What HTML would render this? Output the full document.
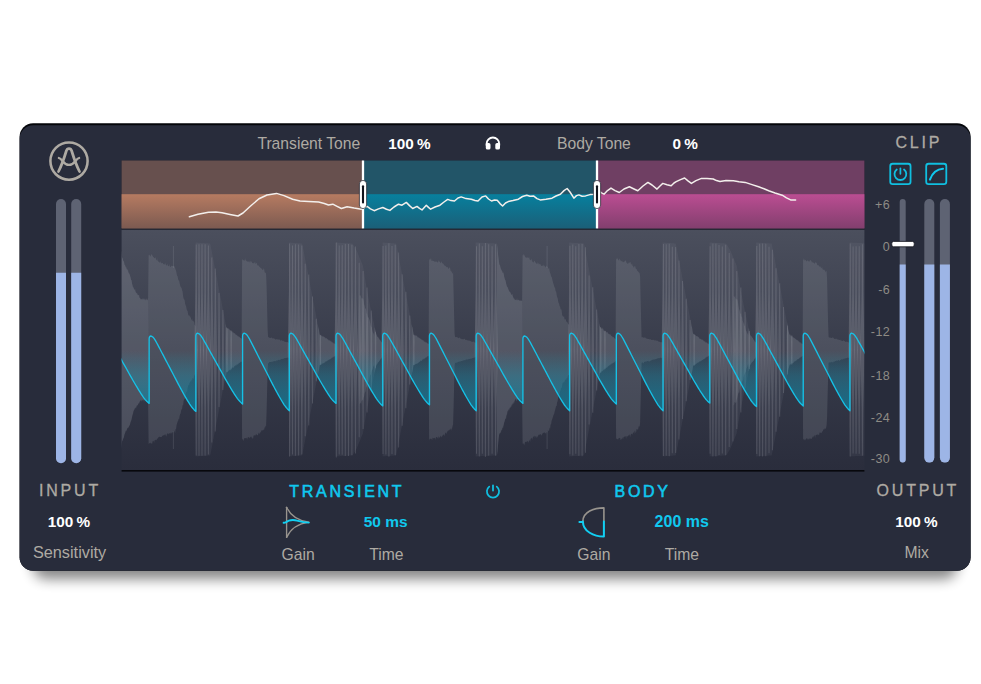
<!DOCTYPE html>
<html lang="en"><head><meta charset="utf-8"><title>Transient Shaper</title>
<style>
html,body{margin:0;padding:0;background:#fff;}
body{width:981px;height:684px;overflow:hidden;position:relative;}
svg{position:absolute;left:0;top:0;display:block;}
text{font-family:"Liberation Sans",sans-serif;}
.lbl{font-size:15.7px;fill:#aeaaa3;}
.val{font-size:15.3px;font-weight:bold;fill:#fff;word-spacing:-1px;}
.cval{font-size:15.5px;font-weight:bold;fill:#10c8ee;}
.hd{font-size:16px;fill:#aeaaa3;letter-spacing:2.8px;stroke:#aeaaa3;stroke-width:0.3px;}
.chd{font-size:16px;fill:#10c8ee;letter-spacing:2.7px;stroke:#10c8ee;stroke-width:0.55px;}
.sc{font-size:12.5px;fill:#8e8b85;letter-spacing:0.4px;}
</style></head><body>
<svg width="981" height="684" viewBox="0 0 981 684">
<defs>
<filter id="sh" x="-10%" y="-10%" width="120%" height="140%"><feGaussianBlur stdDeviation="6.5"/></filter>
<linearGradient id="gw" x1="0" y1="0" x2="0" y2="1"><stop offset="0" stop-color="#4b4f5d"/><stop offset="0.55" stop-color="#363a49"/><stop offset="1" stop-color="#2a2d3c"/></linearGradient>
<linearGradient id="go" x1="0" y1="0" x2="0" y2="1"><stop offset="0" stop-color="#b67b61"/><stop offset="1" stop-color="#7c5a51"/></linearGradient>
<linearGradient id="gt" x1="0" y1="0" x2="0" y2="1"><stop offset="0" stop-color="#07809e"/><stop offset="1" stop-color="#1b5f78"/></linearGradient>
<linearGradient id="gm" x1="0" y1="0" x2="0" y2="1"><stop offset="0" stop-color="#bb4d92"/><stop offset="1" stop-color="#823f6e"/></linearGradient>
<linearGradient id="gc" gradientUnits="userSpaceOnUse" x1="0" y1="351" x2="0" y2="412"><stop offset="0" stop-color="#1aa3c4" stop-opacity="0"/><stop offset="0.4" stop-color="#1a97b6" stop-opacity="0.36"/><stop offset="1" stop-color="#0e7b98" stop-opacity="0.78"/></linearGradient>
<clipPath id="cw"><rect x="121.6" y="229.8" width="742.8" height="240.2"/></clipPath>
</defs>

<rect x="32.6" y="153.2" width="925.0" height="425.8" rx="14" fill="#000" opacity="0.48" filter="url(#sh)"/>
<rect x="19.6" y="123.2" width="951.0" height="447.6" rx="13.5" fill="#05060a"/>
<rect x="19.6" y="125.2" width="951.0" height="445.6" rx="13.5" fill="#282c3b"/>
<g fill="none" stroke="#aeaaa3" stroke-linecap="round"><circle cx="69" cy="161.1" r="18.6" stroke-width="2.55"/><path d="M58.5 171.5 C61.8 165 64.6 156.6 66.3 151 C67.2 147.7 70.8 147.7 71.7 151 C73.4 156.6 76.2 165 79.5 171.5" stroke-width="2.75"/><path d="M58.9 158 C62.6 158.8 63 164.9 69 164.9 C75 164.9 75.4 158.8 79.1 158" stroke-width="2.3"/></g>
<text class="lbl" x="257.4" y="148.9">Transient Tone</text>
<text class="val" x="388.3" y="148.9">100 %</text>
<text class="lbl" x="557" y="148.9">Body Tone</text>
<text class="val" x="672.4" y="148.9">0 %</text>
<path d="M486.6 145.4 V143.8 A6.3 6.3 0 0 1 499.2 143.8 V145.4" fill="none" stroke="#fff" stroke-width="1.9"/><rect x="485.8" y="143.1" width="4.7" height="6.5" rx="1.7" fill="#fff"/><rect x="495.3" y="143.1" width="4.7" height="6.5" rx="1.7" fill="#fff"/>
<rect x="121.6" y="160.5" width="742.8" height="69.4" fill="#1c1f2b"/>
<rect x="121.6" y="160.5" width="241.4" height="67.9" fill="#67504e"/>
<rect x="121.6" y="194.2" width="241.4" height="34.20000000000002" fill="url(#go)"/>
<rect x="363.0" y="160.5" width="234.0" height="67.9" fill="#225568"/>
<rect x="363.0" y="194.2" width="234.0" height="34.20000000000002" fill="url(#gt)"/>
<rect x="597.0" y="160.5" width="267.4" height="67.9" fill="#6f3f63"/>
<rect x="597.0" y="194.2" width="267.4" height="34.20000000000002" fill="url(#gm)"/>
<polyline fill="none" stroke="#f3efec" stroke-width="1.5" stroke-linejoin="round" stroke-linecap="round" points="189.4,216.7 198.0,214.3 208.5,212.3 216.0,212.1 222.0,212.7 230.0,214.4 238.0,216.0 243.0,213.0 250.0,206.5 259.0,198.8 267.0,195.0 276.5,193.4 284.0,195.6 292.6,199.2 300.0,200.9 308.6,201.4 318.6,202.1 324.3,203.5 328.5,205.0 332.8,204.2 337.1,206.4 341.4,208.5 347.1,206.7 354.2,208.1 361.4,209.2 367.1,206.4 370.5,208.8 374.2,210.7 378.5,208.9 382.8,207.5 386.5,209.2 389.9,210.4 394.0,207.0 398.5,204.2 402.0,205.2 406.3,202.4 409.5,205.6 412.7,208.5 417.0,206.4 419.5,208.4 422.0,209.9 426.3,205.2 428.5,207.4 430.6,209.2 435.0,207.0 440.0,205.2 444.0,202.0 447.7,199.4 451.0,200.6 454.5,201.0 458.0,198.0 461.2,196.9 466.0,198.6 471.3,199.2 475.0,200.5 478.0,201.0 482.0,197.0 485.7,195.9 488.5,199.0 491.5,201.0 494.5,200.0 497.2,200.2 500.0,203.6 502.6,206.0 505.5,203.0 508.3,201.6 513.0,200.6 518.4,199.2 522.5,196.5 526.8,195.2 530.0,196.2 533.5,195.9 537.0,198.6 540.2,199.9 546.0,199.2 552.0,198.2 556.0,196.0 560.4,194.2 564.0,190.6 567.1,188.5 570.0,192.0 573.9,198.2 576.5,195.6 578.9,194.9 582.0,196.2 585.6,195.9 590.0,194.6 595.7,194.2 599.0,190.8 601.5,192.8 604.0,194.2 607.5,190.6 611.0,188.1 615.0,190.6 619.3,192.5 624.0,189.0 629.4,186.8 634.0,189.0 637.8,190.8 643.0,186.0 647.9,182.4 652.0,185.0 657.0,189.1 660.0,186.0 662.8,183.4 667.0,184.8 671.2,185.8 674.0,183.0 676.2,181.7 680.5,179.6 684.6,178.0 688.0,180.8 691.4,183.4 696.0,180.6 701.5,178.4 707.0,178.4 713.2,179.0 716.5,180.6 720.0,181.4 726.0,180.4 733.4,180.7 739.0,181.7 745.2,182.4 752.0,184.6 758.6,186.8 764.0,188.8 768.7,190.8 775.0,193.0 782.2,195.2 786.5,197.8 790.6,199.9 795.6,199.9"/>
<rect x="361.85" y="160.5" width="2.3" height="67.9" fill="#fff"/>
<rect x="359.4" y="180.4" width="7.2" height="28.2" rx="3.6" fill="#fff" stroke="#1b1d28" stroke-width="0.7"/>
<rect x="361.95" y="185.2" width="2.1" height="18.4" rx="1" fill="#11131c"/>
<rect x="595.85" y="160.5" width="2.3" height="67.9" fill="#fff"/>
<rect x="593.4" y="180.4" width="7.2" height="28.2" rx="3.6" fill="#fff" stroke="#1b1d28" stroke-width="0.7"/>
<rect x="595.95" y="185.2" width="2.1" height="18.4" rx="1" fill="#11131c"/>
<rect x="121.6" y="229.8" width="742.8" height="240.2" fill="url(#gw)"/>
<g clip-path="url(#cw)">
<polygon fill="#b4b5c0" fill-opacity="0.07" points="120.6,245.7 121.1,249.9 121.6,254.1 122.1,256.8 122.6,258.3 123.1,259.8 123.6,261.3 124.1,262.8 124.6,264.3 125.1,265.8 125.6,267.3 126.1,268.4 126.6,269.2 127.1,269.9 127.6,270.7 128.1,271.4 128.6,272.2 129.1,272.9 129.6,273.7 130.1,275.1 130.6,277.1 131.1,279.1 131.6,281.1 132.1,283.1 132.6,285.1 133.1,287.1 133.6,288.4 134.1,289.1 134.6,289.8 135.1,290.5 135.6,291.2 136.1,292.0 136.6,292.7 137.1,293.4 137.6,294.2 138.1,294.9 138.6,295.7 139.1,296.4 139.6,297.2 140.1,297.9 140.6,298.7 141.1,299.0 141.6,299.1 142.1,299.2 142.6,299.2 143.1,299.3 143.6,299.4 144.1,299.4 144.6,299.5 145.1,299.6 145.6,299.6 146.1,299.7 146.6,299.7 147.1,299.8 147.6,299.9 148.1,299.9 148.6,335.0 149.1,350.0 149.6,350.0 150.1,350.0 150.6,350.0 151.1,350.0 151.6,350.0 152.1,350.0 152.6,350.0 153.1,350.0 153.6,350.0 154.1,350.0 154.6,350.0 155.1,350.0 155.6,350.0 156.1,350.0 156.6,350.0 157.1,350.0 157.6,350.0 158.1,350.0 158.6,350.0 159.1,350.0 159.6,350.0 160.1,350.0 160.6,350.0 161.1,350.0 161.6,350.0 162.1,350.0 162.6,350.0 163.1,350.0 163.6,350.0 164.1,350.0 164.6,350.0 165.1,350.0 165.6,350.0 166.1,350.0 166.6,350.0 167.1,350.0 167.6,350.0 168.1,350.0 168.6,350.0 169.1,350.0 169.6,350.0 170.1,350.0 170.6,350.0 171.1,350.0 171.6,350.0 172.1,350.0 172.6,350.0 173.1,350.0 173.6,350.0 174.1,350.0 174.6,350.0 175.1,350.0 175.6,350.0 176.1,350.0 176.6,350.0 177.1,350.0 177.6,350.0 178.1,350.0 178.6,350.0 179.1,350.0 179.6,350.0 180.1,350.0 180.6,350.0 181.1,350.0 181.6,350.0 182.1,350.0 182.6,350.0 183.1,350.0 183.6,350.0 184.1,350.0 184.6,350.0 185.1,350.0 185.6,350.0 186.1,350.0 186.6,350.0 187.1,350.0 187.6,350.0 188.1,350.0 188.6,350.0 189.1,350.0 189.6,350.0 190.1,350.0 190.6,350.0 191.1,350.0 191.6,350.0 192.1,350.0 192.6,350.0 193.1,350.0 193.6,350.0 194.1,350.0 194.6,350.0 195.1,350.0 195.6,242.5 196.1,242.6 196.6,242.6 197.1,242.6 197.6,242.7 198.1,242.7 198.6,242.7 199.1,242.8 199.6,242.8 200.1,242.8 200.6,242.9 201.1,242.9 201.6,242.9 202.1,243.0 202.6,243.0 203.1,243.0 203.6,243.1 204.1,243.1 204.6,243.1 205.1,243.2 205.6,243.2 206.1,243.2 206.6,243.3 207.1,243.3 207.6,243.3 208.1,243.4 208.6,243.4 209.1,243.4 209.6,243.5 210.1,243.5 210.6,245.2 211.1,247.8 211.6,250.4 212.1,253.1 212.6,255.7 213.1,258.3 213.6,260.9 214.1,263.5 214.6,266.1 215.1,268.7 215.6,271.3 216.1,273.9 216.6,276.5 217.1,279.1 217.6,281.8 218.1,284.4 218.6,287.0 219.1,289.6 219.6,292.2 220.1,294.8 220.6,297.4 221.1,300.0 221.6,302.6 222.1,305.2 222.6,307.8 223.1,310.5 223.6,313.1 224.1,315.7 224.6,318.3 225.1,320.9 225.6,323.5 226.1,326.1 226.6,327.2 227.1,327.6 227.6,328.0 228.1,328.4 228.6,328.7 229.1,329.1 229.6,329.5 230.1,329.8 230.6,330.2 231.1,330.6 231.6,330.9 232.1,331.3 232.6,331.7 233.1,332.1 233.6,332.4 234.1,332.8 234.6,333.2 235.1,333.5 235.6,333.9 236.1,334.3 236.6,334.6 237.1,335.0 237.6,335.4 238.1,335.8 238.6,336.1 239.1,336.5 239.6,336.9 240.1,337.2 240.6,337.6 241.1,338.0 241.6,338.3 242.1,338.7 242.6,350.0 243.1,350.0 243.6,350.0 244.1,350.0 244.6,350.0 245.1,350.0 245.6,350.0 246.1,350.0 246.6,350.0 247.1,350.0 247.6,350.0 248.1,350.0 248.6,350.0 249.1,350.0 249.6,350.0 250.1,350.0 250.6,350.0 251.1,350.0 251.6,350.0 252.1,350.0 252.6,350.0 253.1,350.0 253.6,350.0 254.1,350.0 254.6,350.0 255.1,350.0 255.6,350.0 256.1,350.0 256.6,350.0 257.1,350.0 257.6,350.0 258.1,350.0 258.6,350.0 259.1,350.0 259.6,350.0 260.1,350.0 260.6,350.0 261.1,350.0 261.6,350.0 262.1,350.0 262.6,350.0 263.1,350.0 263.6,350.0 264.1,350.0 264.6,350.0 265.1,350.0 265.6,350.0 266.1,350.0 266.6,350.0 267.1,350.0 267.6,350.0 268.1,350.0 268.6,350.0 269.1,350.0 269.6,350.0 270.1,350.0 270.6,350.0 271.1,350.0 271.6,350.0 272.1,350.0 272.6,350.0 273.1,350.0 273.6,350.0 274.1,350.0 274.6,350.0 275.1,350.0 275.6,350.0 276.1,350.0 276.6,350.0 277.1,350.0 277.6,350.0 278.1,350.0 278.6,350.0 279.1,350.0 279.6,350.0 280.1,350.0 280.6,350.0 281.1,350.0 281.6,350.0 282.1,350.0 282.6,350.0 283.1,350.0 283.6,350.0 284.1,350.0 284.6,350.0 285.1,350.0 285.6,350.0 286.1,350.0 286.6,350.0 287.1,350.0 287.6,350.0 288.1,350.0 288.6,350.0 289.1,242.5 289.6,242.6 290.1,242.6 290.6,242.6 291.1,242.7 291.6,242.7 292.1,242.8 292.6,242.8 293.1,242.8 293.6,242.9 294.1,242.9 294.6,242.9 295.1,243.0 295.6,243.0 296.1,243.0 296.6,243.1 297.1,243.1 297.6,243.2 298.1,243.2 298.6,243.2 299.1,243.3 299.6,243.3 300.1,243.3 300.6,243.4 301.1,243.4 301.6,243.5 302.1,243.5 302.6,245.5 303.1,248.1 303.6,250.7 304.1,253.3 304.6,255.9 305.1,258.4 305.6,261.0 306.1,263.6 306.6,266.2 307.1,268.8 307.6,271.4 308.1,274.0 308.6,276.5 309.1,279.1 309.6,281.7 310.1,284.3 310.6,286.9 311.1,289.5 311.6,292.1 312.1,294.6 312.6,297.2 313.1,299.8 313.6,302.4 314.1,305.0 314.6,307.6 315.1,310.2 315.6,312.7 316.1,315.3 316.6,317.9 317.1,320.5 317.6,323.1 318.1,325.7 318.6,328.3 319.1,330.8 319.6,333.4 320.1,334.2 320.6,334.5 321.1,334.9 321.6,335.2 322.1,335.5 322.6,335.8 323.1,336.1 323.6,336.4 324.1,336.7 324.6,337.0 325.1,337.3 325.6,337.6 326.1,337.9 326.6,338.2 327.1,338.6 327.6,338.9 328.1,339.2 328.6,339.5 329.1,339.8 329.6,340.1 330.1,340.4 330.6,340.7 331.1,341.0 331.6,341.3 332.1,341.6 332.6,341.9 333.1,342.3 333.6,342.6 334.1,342.9 334.6,343.2 335.1,343.5 335.6,242.5 336.1,242.5 336.6,242.6 337.1,242.6 337.6,242.6 338.1,242.7 338.6,242.7 339.1,242.7 339.6,242.7 340.1,242.8 340.6,242.8 341.1,242.8 341.6,242.9 342.1,242.9 342.6,242.9 343.1,243.0 343.6,243.0 344.1,243.0 344.6,243.0 345.1,243.1 345.6,243.1 346.1,243.1 346.6,243.2 347.1,243.2 347.6,243.2 348.1,243.2 348.6,243.3 349.1,243.3 349.6,243.3 350.1,243.4 350.6,243.4 351.1,243.4 351.6,243.5 352.1,243.5 352.6,243.8 353.1,244.6 353.6,245.4 354.1,246.2 354.6,247.0 355.1,247.8 355.6,248.7 356.1,249.5 356.6,250.4 357.1,251.6 357.6,252.8 358.1,254.0 358.6,255.3 359.1,256.5 359.6,257.7 360.1,258.9 360.6,260.1 361.1,261.3 361.6,262.5 362.1,263.7 362.6,265.0 363.1,266.4 363.6,269.5 364.1,272.6 364.6,275.7 365.1,278.8 365.6,282.0 366.1,284.9 366.6,287.5 367.1,290.2 367.6,292.8 368.1,295.4 368.6,298.1 369.1,300.7 369.6,303.3 370.1,305.8 370.6,308.2 371.1,310.6 371.6,313.0 372.1,315.4 372.6,317.7 373.1,319.9 373.6,322.1 374.1,324.3 374.6,326.5 375.1,328.7 375.6,330.9 376.1,333.1 376.6,334.7 377.1,335.4 377.6,336.1 378.1,336.8 378.6,337.5 379.1,338.1 379.6,338.8 380.1,339.5 380.6,340.2 381.1,340.9 381.6,341.6 382.1,342.2 382.6,242.5 383.1,242.6 383.6,242.6 384.1,242.6 384.6,242.7 385.1,242.7 385.6,242.7 386.1,242.8 386.6,242.8 387.1,242.9 387.6,242.9 388.1,242.9 388.6,243.0 389.1,243.0 389.6,243.0 390.1,243.1 390.6,243.1 391.1,243.1 391.6,243.2 392.1,243.2 392.6,243.2 393.1,243.3 393.6,243.3 394.1,243.4 394.6,243.4 395.1,243.4 395.6,243.5 396.1,243.5 396.6,245.8 397.1,248.4 397.6,251.0 398.1,253.6 398.6,256.2 399.1,258.8 399.6,261.3 400.1,263.9 400.6,266.5 401.1,269.1 401.6,271.7 402.1,274.3 402.6,276.9 403.1,279.4 403.6,282.0 404.1,284.6 404.6,287.2 405.1,289.8 405.6,292.4 406.1,295.0 406.6,297.5 407.1,300.1 407.6,302.7 408.1,305.3 408.6,307.9 409.1,310.5 409.6,313.1 410.1,315.6 410.6,318.2 411.1,320.8 411.6,323.4 412.1,326.0 412.6,328.6 413.1,331.2 413.6,333.7 414.1,334.3 414.6,334.6 415.1,334.9 415.6,335.2 416.1,335.6 416.6,335.9 417.1,336.2 417.6,336.5 418.1,336.8 418.6,337.1 419.1,337.5 419.6,337.8 420.1,338.1 420.6,338.4 421.1,338.7 421.6,339.1 422.1,339.4 422.6,339.7 423.1,340.0 423.6,340.3 424.1,340.6 424.6,341.0 425.1,341.3 425.6,341.6 426.1,341.9 426.6,342.2 427.1,342.6 427.6,342.9 428.1,343.2 428.6,343.5 429.1,343.8 429.6,350.0 430.1,350.0 430.6,350.0 431.1,350.0 431.6,350.0 432.1,350.0 432.6,350.0 433.1,350.0 433.6,350.0 434.1,350.0 434.6,350.0 435.1,350.0 435.6,350.0 436.1,350.0 436.6,350.0 437.1,350.0 437.6,350.0 438.1,350.0 438.6,350.0 439.1,350.0 439.6,350.0 440.1,350.0 440.6,350.0 441.1,350.0 441.6,350.0 442.1,350.0 442.6,350.0 443.1,350.0 443.6,350.0 444.1,350.0 444.6,350.0 445.1,350.0 445.6,350.0 446.1,350.0 446.6,350.0 447.1,350.0 447.6,350.0 448.1,350.0 448.6,350.0 449.1,350.0 449.6,350.0 450.1,350.0 450.6,350.0 451.1,350.0 451.6,350.0 452.1,350.0 452.6,350.0 453.1,350.0 453.6,350.0 454.1,350.0 454.6,350.0 455.1,350.0 455.6,350.0 456.1,350.0 456.6,350.0 457.1,350.0 457.6,350.0 458.1,350.0 458.6,350.0 459.1,350.0 459.6,350.0 460.1,350.0 460.6,350.0 461.1,350.0 461.6,350.0 462.1,350.0 462.6,350.0 463.1,350.0 463.6,350.0 464.1,350.0 464.6,350.0 465.1,350.0 465.6,350.0 466.1,350.0 466.6,350.0 467.1,350.0 467.6,350.0 468.1,350.0 468.6,350.0 469.1,350.0 469.6,350.0 470.1,350.0 470.6,350.0 471.1,350.0 471.6,350.0 472.1,350.0 472.6,350.0 473.1,350.0 473.6,350.0 474.1,350.0 474.6,350.0 475.1,350.0 475.6,242.5 476.1,242.5 476.6,242.5 477.1,242.6 477.6,242.6 478.1,242.6 478.6,242.6 479.1,242.7 479.6,242.7 480.1,242.7 480.6,242.7 481.1,242.8 481.6,242.8 482.1,242.8 482.6,242.8 483.1,242.8 483.6,242.9 484.1,242.9 484.6,242.9 485.1,242.9 485.6,243.0 486.1,243.0 486.6,243.0 487.1,243.0 487.6,243.1 488.1,243.1 488.6,243.1 489.1,243.1 489.6,243.2 490.1,243.2 490.6,243.2 491.1,243.2 491.6,243.2 492.1,243.3 492.6,243.3 493.1,243.3 493.6,243.3 494.1,243.4 494.6,243.4 495.1,243.4 495.6,243.4 496.1,243.5 496.6,243.5 497.1,243.6 497.6,248.7 498.1,253.9 498.6,259.0 499.1,264.0 499.6,265.1 500.1,266.2 500.6,267.4 501.1,268.5 501.6,269.6 502.1,270.7 502.6,271.8 503.1,272.9 503.6,274.0 504.1,275.8 504.6,277.5 505.1,279.3 505.6,281.0 506.1,282.8 506.6,284.5 507.1,286.3 507.6,288.0 508.1,288.8 508.6,289.6 509.1,290.5 509.6,291.3 510.1,292.1 510.6,292.9 511.1,293.7 511.6,294.5 512.1,295.2 512.6,295.9 513.1,296.6 513.6,297.3 514.1,298.0 514.6,298.6 515.1,299.3 515.6,300.0 516.1,300.0 516.6,300.0 517.1,300.0 517.6,300.0 518.1,300.0 518.6,300.0 519.1,300.0 519.6,300.0 520.1,300.0 520.6,300.0 521.1,300.0 521.6,300.0 522.1,300.0 522.6,350.0 523.1,350.0 523.6,350.0 524.1,350.0 524.6,350.0 525.1,350.0 525.6,350.0 526.1,350.0 526.6,350.0 527.1,350.0 527.6,350.0 528.1,350.0 528.6,350.0 529.1,350.0 529.6,350.0 530.1,350.0 530.6,350.0 531.1,350.0 531.6,350.0 532.1,350.0 532.6,350.0 533.1,350.0 533.6,350.0 534.1,350.0 534.6,350.0 535.1,350.0 535.6,350.0 536.1,350.0 536.6,350.0 537.1,350.0 537.6,350.0 538.1,350.0 538.6,350.0 539.1,350.0 539.6,350.0 540.1,350.0 540.6,350.0 541.1,350.0 541.6,350.0 542.1,350.0 542.6,350.0 543.1,350.0 543.6,350.0 544.1,350.0 544.6,350.0 545.1,350.0 545.6,350.0 546.1,350.0 546.6,350.0 547.1,350.0 547.6,350.0 548.1,350.0 548.6,350.0 549.1,350.0 549.6,350.0 550.1,350.0 550.6,350.0 551.1,350.0 551.6,350.0 552.1,350.0 552.6,350.0 553.1,350.0 553.6,350.0 554.1,350.0 554.6,350.0 555.1,350.0 555.6,350.0 556.1,350.0 556.6,350.0 557.1,350.0 557.6,350.0 558.1,350.0 558.6,350.0 559.1,350.0 559.6,350.0 560.1,350.0 560.6,350.0 561.1,350.0 561.6,350.0 562.1,350.0 562.6,350.0 563.1,350.0 563.6,350.0 564.1,350.0 564.6,350.0 565.1,350.0 565.6,350.0 566.1,350.0 566.6,350.0 567.1,350.0 567.6,350.0 568.1,350.0 568.6,350.0 569.1,242.5 569.6,242.5 570.1,242.6 570.6,242.6 571.1,242.6 571.6,242.7 572.1,242.7 572.6,242.7 573.1,242.8 573.6,242.8 574.1,242.8 574.6,242.9 575.1,242.9 575.6,242.9 576.1,243.0 576.6,243.0 577.1,243.0 577.6,243.1 578.1,243.1 578.6,243.1 579.1,243.2 579.6,243.2 580.1,243.2 580.6,243.3 581.1,243.3 581.6,243.3 582.1,243.4 582.6,243.4 583.1,243.4 583.6,243.5 584.1,243.9 584.6,246.5 585.1,249.1 585.6,251.7 586.1,254.3 586.6,256.9 587.1,259.5 587.6,262.1 588.1,264.7 588.6,267.3 589.1,270.0 589.6,272.6 590.1,275.2 590.6,277.8 591.1,280.4 591.6,283.0 592.1,285.6 592.6,288.2 593.1,290.8 593.6,293.4 594.1,296.1 594.6,298.7 595.1,301.3 595.6,303.9 596.1,306.5 596.6,309.1 597.1,311.7 597.6,314.3 598.1,316.9 598.6,319.5 599.1,322.1 599.6,324.8 600.1,327.1 600.6,327.4 601.1,327.8 601.6,328.2 602.1,328.5 602.6,328.9 603.1,329.3 603.6,329.6 604.1,330.0 604.6,330.4 605.1,330.8 605.6,331.1 606.1,331.5 606.6,331.9 607.1,332.2 607.6,332.6 608.1,333.0 608.6,333.3 609.1,333.7 609.6,334.1 610.1,334.5 610.6,334.8 611.1,335.2 611.6,335.6 612.1,335.9 612.6,336.3 613.1,336.7 613.6,337.0 614.1,337.4 614.6,337.8 615.1,338.1 615.6,338.5 616.1,338.9 616.6,350.0 617.1,350.0 617.6,350.0 618.1,350.0 618.6,350.0 619.1,350.0 619.6,350.0 620.1,350.0 620.6,350.0 621.1,350.0 621.6,350.0 622.1,350.0 622.6,350.0 623.1,350.0 623.6,350.0 624.1,350.0 624.6,350.0 625.1,350.0 625.6,350.0 626.1,350.0 626.6,350.0 627.1,350.0 627.6,350.0 628.1,350.0 628.6,350.0 629.1,350.0 629.6,350.0 630.1,350.0 630.6,350.0 631.1,350.0 631.6,350.0 632.1,350.0 632.6,350.0 633.1,350.0 633.6,350.0 634.1,350.0 634.6,350.0 635.1,350.0 635.6,350.0 636.1,350.0 636.6,350.0 637.1,350.0 637.6,350.0 638.1,350.0 638.6,350.0 639.1,350.0 639.6,350.0 640.1,350.0 640.6,350.0 641.1,350.0 641.6,350.0 642.1,350.0 642.6,350.0 643.1,350.0 643.6,350.0 644.1,350.0 644.6,350.0 645.1,350.0 645.6,350.0 646.1,350.0 646.6,350.0 647.1,350.0 647.6,350.0 648.1,350.0 648.6,350.0 649.1,350.0 649.6,350.0 650.1,350.0 650.6,350.0 651.1,350.0 651.6,350.0 652.1,350.0 652.6,350.0 653.1,350.0 653.6,350.0 654.1,350.0 654.6,350.0 655.1,350.0 655.6,350.0 656.1,350.0 656.6,350.0 657.1,350.0 657.6,350.0 658.1,350.0 658.6,350.0 659.1,350.0 659.6,350.0 660.1,350.0 660.6,350.0 661.1,350.0 661.6,350.0 662.1,350.0 662.6,242.5 663.1,242.5 663.6,242.6 664.1,242.6 664.6,242.7 665.1,242.7 665.6,242.7 666.1,242.8 666.6,242.8 667.1,242.8 667.6,242.9 668.1,242.9 668.6,243.0 669.1,243.0 669.6,243.0 670.1,243.1 670.6,243.1 671.1,243.1 671.6,243.2 672.1,243.2 672.6,243.3 673.1,243.3 673.6,243.3 674.1,243.4 674.6,243.4 675.1,243.4 675.6,243.5 676.1,245.2 676.6,247.8 677.1,250.4 677.6,253.0 678.1,255.5 678.6,258.1 679.1,260.7 679.6,263.3 680.1,265.9 680.6,268.5 681.1,271.1 681.6,273.6 682.1,276.2 682.6,278.8 683.1,281.4 683.6,284.0 684.1,286.6 684.6,289.2 685.1,291.7 685.6,294.3 686.1,296.9 686.6,299.5 687.1,302.1 687.6,304.7 688.1,307.3 688.6,309.8 689.1,312.4 689.6,315.0 690.1,317.6 690.6,320.2 691.1,322.8 691.6,325.4 692.1,327.9 692.6,330.5 693.1,333.1 693.6,334.2 694.1,334.5 694.6,334.8 695.1,335.1 695.6,335.4 696.1,335.7 696.6,336.0 697.1,336.3 697.6,336.6 698.1,336.9 698.6,337.2 699.1,337.6 699.6,337.9 700.1,338.2 700.6,338.5 701.1,338.8 701.6,339.1 702.1,339.4 702.6,339.7 703.1,340.0 703.6,340.3 704.1,340.6 704.6,340.9 705.1,341.2 705.6,341.5 706.1,341.8 706.6,342.1 707.1,342.4 707.6,342.7 708.1,343.0 708.6,343.3 709.1,343.6 709.6,242.5 710.1,242.6 710.6,242.6 711.1,242.6 711.6,242.6 712.1,242.7 712.6,242.7 713.1,242.7 713.6,242.8 714.1,242.8 714.6,242.8 715.1,242.8 715.6,242.9 716.1,242.9 716.6,242.9 717.1,243.0 717.6,243.0 718.1,243.0 718.6,243.1 719.1,243.1 719.6,243.1 720.1,243.1 720.6,243.2 721.1,243.2 721.6,243.2 722.1,243.3 722.6,243.3 723.1,243.3 723.6,243.3 724.1,243.4 724.6,243.4 725.1,243.4 725.6,243.5 726.1,243.5 726.6,244.2 727.1,245.0 727.6,245.8 728.1,246.6 728.6,247.4 729.1,248.2 729.6,249.0 730.1,249.9 730.6,251.0 731.1,252.2 731.6,253.4 732.1,254.6 732.6,255.8 733.1,257.1 733.6,258.3 734.1,259.5 734.6,260.7 735.1,261.9 735.6,263.1 736.1,264.3 736.6,265.5 737.1,267.9 737.6,271.0 738.1,274.1 738.6,277.2 739.1,280.3 739.6,283.4 740.1,286.2 740.6,288.8 741.1,291.4 741.6,294.1 742.1,296.7 742.6,299.3 743.1,301.9 743.6,304.5 744.1,306.9 744.6,309.3 745.1,311.8 745.6,314.2 746.1,316.6 746.6,318.8 747.1,321.0 747.6,323.2 748.1,325.4 748.6,327.5 749.1,329.7 749.6,331.9 750.1,334.1 750.6,335.1 751.1,335.7 751.6,336.4 752.1,337.1 752.6,337.8 753.1,338.5 753.6,339.2 754.1,339.8 754.6,340.5 755.1,341.2 755.6,341.9 756.1,242.5 756.6,242.5 757.1,242.6 757.6,242.6 758.1,242.6 758.6,242.7 759.1,242.7 759.6,242.7 760.1,242.8 760.6,242.8 761.1,242.8 761.6,242.9 762.1,242.9 762.6,242.9 763.1,243.0 763.6,243.0 764.1,243.0 764.6,243.1 765.1,243.1 765.6,243.1 766.1,243.1 766.6,243.2 767.1,243.2 767.6,243.2 768.1,243.3 768.6,243.3 769.1,243.3 769.6,243.4 770.1,243.4 770.6,243.4 771.1,243.5 771.6,243.5 772.1,245.5 772.6,248.1 773.1,250.7 773.6,253.3 774.1,255.9 774.6,258.4 775.1,261.0 775.6,263.6 776.1,266.2 776.6,268.8 777.1,271.4 777.6,274.0 778.1,276.5 778.6,279.1 779.1,281.7 779.6,284.3 780.1,286.9 780.6,289.5 781.1,292.1 781.6,294.6 782.1,297.2 782.6,299.8 783.1,302.4 783.6,305.0 784.1,307.6 784.6,310.2 785.1,312.7 785.6,315.3 786.1,317.9 786.6,320.5 787.1,323.1 787.6,325.7 788.1,328.3 788.6,330.8 789.1,333.4 789.6,334.3 790.1,334.6 790.6,335.0 791.1,335.4 791.6,335.7 792.1,336.1 792.6,336.4 793.1,336.8 793.6,337.2 794.1,337.5 794.6,337.9 795.1,338.2 795.6,338.6 796.1,338.9 796.6,339.3 797.1,339.7 797.6,340.0 798.1,340.4 798.6,340.7 799.1,341.1 799.6,341.5 800.1,341.8 800.6,342.2 801.1,342.5 801.6,342.9 802.1,343.3 802.6,343.6 803.1,344.0 803.6,350.0 804.1,350.0 804.6,350.0 805.1,350.0 805.6,350.0 806.1,350.0 806.6,350.0 807.1,350.0 807.6,350.0 808.1,350.0 808.6,350.0 809.1,350.0 809.6,350.0 810.1,350.0 810.6,350.0 811.1,350.0 811.6,350.0 812.1,350.0 812.6,350.0 813.1,350.0 813.6,350.0 814.1,350.0 814.6,350.0 815.1,350.0 815.6,350.0 816.1,350.0 816.6,350.0 817.1,350.0 817.6,350.0 818.1,350.0 818.6,350.0 819.1,350.0 819.6,350.0 820.1,350.0 820.6,350.0 821.1,350.0 821.6,350.0 822.1,350.0 822.6,350.0 823.1,350.0 823.6,350.0 824.1,350.0 824.6,350.0 825.1,350.0 825.6,350.0 826.1,350.0 826.6,350.0 827.1,350.0 827.6,350.0 828.1,350.0 828.6,350.0 829.1,350.0 829.6,350.0 830.1,350.0 830.6,350.0 831.1,350.0 831.6,350.0 832.1,350.0 832.6,350.0 833.1,350.0 833.6,350.0 834.1,350.0 834.6,350.0 835.1,350.0 835.6,350.0 836.1,350.0 836.6,350.0 837.1,350.0 837.6,350.0 838.1,350.0 838.6,350.0 839.1,350.0 839.6,350.0 840.1,350.0 840.6,350.0 841.1,350.0 841.6,350.0 842.1,350.0 842.6,350.0 843.1,350.0 843.6,350.0 844.1,350.0 844.6,350.0 845.1,350.0 845.6,350.0 846.1,350.0 846.6,350.0 847.1,350.0 847.6,350.0 848.1,350.0 848.6,350.0 849.1,350.0 849.6,242.5 850.1,242.5 850.6,242.6 851.1,242.6 851.6,242.6 852.1,242.6 852.6,242.7 853.1,242.7 853.6,242.7 854.1,242.7 854.6,242.7 855.1,242.8 855.6,242.8 856.1,242.8 856.6,242.8 857.1,242.9 857.6,242.9 858.1,242.9 858.6,242.9 859.1,243.0 859.6,243.0 860.1,243.0 860.6,243.0 861.1,243.0 861.6,243.1 862.1,243.1 862.6,243.1 863.1,243.1 863.6,243.2 864.1,243.2 864.6,243.2 865.1,243.2 865.1,455.7 864.6,455.7 864.1,455.7 863.6,455.8 863.1,455.8 862.6,455.8 862.1,455.8 861.6,455.9 861.1,455.9 860.6,455.9 860.1,455.9 859.6,456.0 859.1,456.0 858.6,456.0 858.1,456.0 857.6,456.0 857.1,456.1 856.6,456.1 856.1,456.1 855.6,456.1 855.1,456.2 854.6,456.2 854.1,456.2 853.6,456.2 853.1,456.3 852.6,456.3 852.1,456.3 851.6,456.3 851.1,456.3 850.6,456.4 850.1,456.4 849.6,456.4 849.1,350.0 848.6,350.0 848.1,350.0 847.6,350.0 847.1,350.0 846.6,350.0 846.1,350.0 845.6,350.0 845.1,350.0 844.6,350.0 844.1,350.0 843.6,350.0 843.1,350.0 842.6,350.0 842.1,350.0 841.6,350.0 841.1,350.0 840.6,350.0 840.1,350.0 839.6,350.0 839.1,350.0 838.6,350.0 838.1,350.0 837.6,350.0 837.1,350.0 836.6,350.0 836.1,350.0 835.6,350.0 835.1,350.0 834.6,350.0 834.1,350.0 833.6,350.0 833.1,350.0 832.6,350.0 832.1,350.0 831.6,350.0 831.1,350.0 830.6,350.0 830.1,350.0 829.6,350.0 829.1,350.0 828.6,350.0 828.1,350.0 827.6,350.0 827.1,350.0 826.6,350.0 826.1,350.0 825.6,350.0 825.1,350.0 824.6,350.0 824.1,350.0 823.6,350.0 823.1,350.0 822.6,350.0 822.1,350.0 821.6,350.0 821.1,350.0 820.6,350.0 820.1,350.0 819.6,350.0 819.1,350.0 818.6,350.0 818.1,350.0 817.6,350.0 817.1,350.0 816.6,350.0 816.1,350.0 815.6,350.0 815.1,350.0 814.6,350.0 814.1,350.0 813.6,350.0 813.1,350.0 812.6,350.0 812.1,350.0 811.6,350.0 811.1,350.0 810.6,350.0 810.1,350.0 809.6,350.0 809.1,350.0 808.6,350.0 808.1,350.0 807.6,350.0 807.1,350.0 806.6,350.0 806.1,350.0 805.6,350.0 805.1,350.0 804.6,350.0 804.1,350.0 803.6,350.0 803.1,356.0 802.6,356.3 802.1,356.7 801.6,357.0 801.1,357.4 800.6,357.7 800.1,358.1 799.6,358.5 799.1,358.8 798.6,359.2 798.1,359.5 797.6,359.9 797.1,360.2 796.6,360.6 796.1,360.9 795.6,361.3 795.1,361.7 794.6,362.0 794.1,362.4 793.6,362.7 793.1,363.1 792.6,363.4 792.1,363.8 791.6,364.1 791.1,364.5 790.6,364.9 790.1,365.2 789.6,365.6 789.1,366.4 788.6,369.0 788.1,371.5 787.6,374.1 787.1,376.6 786.6,379.2 786.1,381.8 785.6,384.3 785.1,386.9 784.6,389.4 784.1,392.0 783.6,394.6 783.1,397.1 782.6,399.7 782.1,402.2 781.6,404.8 781.1,407.4 780.6,409.9 780.1,412.5 779.6,415.0 779.1,417.6 778.6,420.2 778.1,422.7 777.6,425.3 777.1,427.8 776.6,430.4 776.1,433.0 775.6,435.5 775.1,438.1 774.6,440.6 774.1,443.2 773.6,445.8 773.1,448.3 772.6,450.9 772.1,453.4 771.6,455.4 771.1,455.5 770.6,455.5 770.1,455.5 769.6,455.6 769.1,455.6 768.6,455.6 768.1,455.7 767.6,455.7 767.1,455.7 766.6,455.8 766.1,455.8 765.6,455.8 765.1,455.8 764.6,455.9 764.1,455.9 763.6,455.9 763.1,456.0 762.6,456.0 762.1,456.0 761.6,456.1 761.1,456.1 760.6,456.1 760.1,456.2 759.6,456.2 759.1,456.2 758.6,456.3 758.1,456.3 757.6,456.3 757.1,456.4 756.6,456.4 756.1,456.4 755.6,358.0 755.1,358.7 754.6,359.4 754.1,360.1 753.6,360.7 753.1,361.4 752.6,362.1 752.1,362.8 751.6,363.4 751.1,364.1 750.6,364.8 750.1,365.7 749.6,367.9 749.1,370.1 748.6,372.2 748.1,374.4 747.6,376.6 747.1,378.7 746.6,380.9 746.1,383.1 745.6,385.5 745.1,387.9 744.6,390.2 744.1,392.6 743.6,395.0 743.1,397.6 742.6,400.2 742.1,402.8 741.6,405.4 741.1,408.0 740.6,410.6 740.1,413.2 739.6,415.9 739.1,419.0 738.6,422.0 738.1,425.1 737.6,428.2 737.1,431.3 736.6,433.6 736.1,434.8 735.6,436.0 735.1,437.2 734.6,438.4 734.1,439.6 733.6,440.8 733.1,442.0 732.6,443.2 732.1,444.4 731.6,445.6 731.1,446.8 730.6,448.0 730.1,449.1 729.6,449.9 729.1,450.8 728.6,451.6 728.1,452.4 727.6,453.2 727.1,454.0 726.6,454.8 726.1,455.4 725.6,455.5 725.1,455.5 724.6,455.5 724.1,455.6 723.6,455.6 723.1,455.6 722.6,455.6 722.1,455.7 721.6,455.7 721.1,455.7 720.6,455.8 720.1,455.8 719.6,455.8 719.1,455.8 718.6,455.9 718.1,455.9 717.6,455.9 717.1,456.0 716.6,456.0 716.1,456.0 715.6,456.1 715.1,456.1 714.6,456.1 714.1,456.1 713.6,456.2 713.1,456.2 712.6,456.2 712.1,456.3 711.6,456.3 711.1,456.3 710.6,456.3 710.1,456.4 709.6,456.4 709.1,356.3 708.6,356.6 708.1,356.9 707.6,357.2 707.1,357.5 706.6,357.8 706.1,358.1 705.6,358.4 705.1,358.7 704.6,359.0 704.1,359.3 703.6,359.6 703.1,359.9 702.6,360.2 702.1,360.5 701.6,360.8 701.1,361.1 700.6,361.4 700.1,361.7 699.6,362.0 699.1,362.3 698.6,362.6 698.1,362.9 697.6,363.2 697.1,363.5 696.6,363.8 696.1,364.1 695.6,364.4 695.1,364.7 694.6,365.0 694.1,365.3 693.6,365.6 693.1,366.7 692.6,369.3 692.1,371.8 691.6,374.4 691.1,376.9 690.6,379.5 690.1,382.1 689.6,384.6 689.1,387.2 688.6,389.7 688.1,392.3 687.6,394.9 687.1,397.4 686.6,400.0 686.1,402.5 685.6,405.1 685.1,407.7 684.6,410.2 684.1,412.8 683.6,415.3 683.1,417.9 682.6,420.5 682.1,423.0 681.6,425.6 681.1,428.1 680.6,430.7 680.1,433.3 679.6,435.8 679.1,438.4 678.6,440.9 678.1,443.5 677.6,446.1 677.1,448.6 676.6,451.2 676.1,453.7 675.6,455.4 675.1,455.5 674.6,455.5 674.1,455.6 673.6,455.6 673.1,455.6 672.6,455.7 672.1,455.7 671.6,455.7 671.1,455.8 670.6,455.8 670.1,455.9 669.6,455.9 669.1,455.9 668.6,456.0 668.1,456.0 667.6,456.0 667.1,456.1 666.6,456.1 666.1,456.2 665.6,456.2 665.1,456.2 664.6,456.3 664.1,456.3 663.6,456.3 663.1,456.4 662.6,456.4 662.1,350.0 661.6,350.0 661.1,350.0 660.6,350.0 660.1,350.0 659.6,350.0 659.1,350.0 658.6,350.0 658.1,350.0 657.6,350.0 657.1,350.0 656.6,350.0 656.1,350.0 655.6,350.0 655.1,350.0 654.6,350.0 654.1,350.0 653.6,350.0 653.1,350.0 652.6,350.0 652.1,350.0 651.6,350.0 651.1,350.0 650.6,350.0 650.1,350.0 649.6,350.0 649.1,350.0 648.6,350.0 648.1,350.0 647.6,350.0 647.1,350.0 646.6,350.0 646.1,350.0 645.6,350.0 645.1,350.0 644.6,350.0 644.1,350.0 643.6,350.0 643.1,350.0 642.6,350.0 642.1,350.0 641.6,350.0 641.1,350.0 640.6,350.0 640.1,350.0 639.6,350.0 639.1,350.0 638.6,350.0 638.1,350.0 637.6,350.0 637.1,350.0 636.6,350.0 636.1,350.0 635.6,350.0 635.1,350.0 634.6,350.0 634.1,350.0 633.6,350.0 633.1,350.0 632.6,350.0 632.1,350.0 631.6,350.0 631.1,350.0 630.6,350.0 630.1,350.0 629.6,350.0 629.1,350.0 628.6,350.0 628.1,350.0 627.6,350.0 627.1,350.0 626.6,350.0 626.1,350.0 625.6,350.0 625.1,350.0 624.6,350.0 624.1,350.0 623.6,350.0 623.1,350.0 622.6,350.0 622.1,350.0 621.6,350.0 621.1,350.0 620.6,350.0 620.1,350.0 619.6,350.0 619.1,350.0 618.6,350.0 618.1,350.0 617.6,350.0 617.1,350.0 616.6,350.0 616.1,361.0 615.6,361.4 615.1,361.7 614.6,362.1 614.1,362.5 613.6,362.8 613.1,363.2 612.6,363.6 612.1,363.9 611.6,364.3 611.1,364.7 610.6,365.0 610.1,365.4 609.6,365.8 609.1,366.1 608.6,366.5 608.1,366.9 607.6,367.2 607.1,367.6 606.6,368.0 606.1,368.3 605.6,368.7 605.1,369.1 604.6,369.4 604.1,369.8 603.6,370.2 603.1,370.5 602.6,370.9 602.1,371.3 601.6,371.6 601.1,372.0 600.6,372.4 600.1,372.7 599.6,375.0 599.1,377.6 598.6,380.2 598.1,382.7 597.6,385.3 597.1,387.9 596.6,390.5 596.1,393.1 595.6,395.7 595.1,398.2 594.6,400.8 594.1,403.4 593.6,406.0 593.1,408.6 592.6,411.2 592.1,413.7 591.6,416.3 591.1,418.9 590.6,421.5 590.1,424.1 589.6,426.7 589.1,429.2 588.6,431.8 588.1,434.4 587.6,437.0 587.1,439.6 586.6,442.2 586.1,444.7 585.6,447.3 585.1,449.9 584.6,452.5 584.1,455.1 583.6,455.5 583.1,455.5 582.6,455.5 582.1,455.6 581.6,455.6 581.1,455.6 580.6,455.7 580.1,455.7 579.6,455.7 579.1,455.8 578.6,455.8 578.1,455.8 577.6,455.9 577.1,455.9 576.6,455.9 576.1,456.0 575.6,456.0 575.1,456.0 574.6,456.1 574.1,456.1 573.6,456.1 573.1,456.2 572.6,456.2 572.1,456.2 571.6,456.3 571.1,456.3 570.6,456.3 570.1,456.4 569.6,456.4 569.1,456.4 568.6,350.0 568.1,350.0 567.6,350.0 567.1,350.0 566.6,350.0 566.1,350.0 565.6,350.0 565.1,350.0 564.6,350.0 564.1,350.0 563.6,350.0 563.1,350.0 562.6,350.0 562.1,350.0 561.6,350.0 561.1,350.0 560.6,350.0 560.1,350.0 559.6,350.0 559.1,350.0 558.6,350.0 558.1,350.0 557.6,350.0 557.1,350.0 556.6,350.0 556.1,350.0 555.6,350.0 555.1,350.0 554.6,350.0 554.1,350.0 553.6,350.0 553.1,350.0 552.6,350.0 552.1,350.0 551.6,350.0 551.1,350.0 550.6,350.0 550.1,350.0 549.6,350.0 549.1,350.0 548.6,350.0 548.1,350.0 547.6,350.0 547.1,350.0 546.6,350.0 546.1,350.0 545.6,350.0 545.1,350.0 544.6,350.0 544.1,350.0 543.6,350.0 543.1,350.0 542.6,350.0 542.1,350.0 541.6,350.0 541.1,350.0 540.6,350.0 540.1,350.0 539.6,350.0 539.1,350.0 538.6,350.0 538.1,350.0 537.6,350.0 537.1,350.0 536.6,350.0 536.1,350.0 535.6,350.0 535.1,350.0 534.6,350.0 534.1,350.0 533.6,350.0 533.1,350.0 532.6,350.0 532.1,350.0 531.6,350.0 531.1,350.0 530.6,350.0 530.1,350.0 529.6,350.0 529.1,350.0 528.6,350.0 528.1,350.0 527.6,350.0 527.1,350.0 526.6,350.0 526.1,350.0 525.6,350.0 525.1,350.0 524.6,350.0 524.1,350.0 523.6,350.0 523.1,350.0 522.6,350.0 522.1,399.5 521.6,399.5 521.1,399.5 520.6,399.5 520.1,399.5 519.6,399.5 519.1,399.5 518.6,399.5 518.1,399.5 517.6,399.5 517.1,399.5 516.6,399.5 516.1,399.5 515.6,399.5 515.1,400.2 514.6,400.8 514.1,401.5 513.6,402.2 513.1,402.9 512.6,403.6 512.1,404.3 511.6,404.9 511.1,405.7 510.6,406.5 510.1,407.3 509.6,408.1 509.1,409.0 508.6,409.8 508.1,410.6 507.6,411.4 507.1,413.1 506.6,414.8 506.1,416.5 505.6,418.3 505.1,420.0 504.6,421.7 504.1,423.5 503.6,425.2 503.1,426.3 502.6,427.4 502.1,428.5 501.6,429.6 501.1,430.7 500.6,431.8 500.1,432.9 499.6,434.0 499.1,435.1 498.6,440.1 498.1,445.2 497.6,450.3 497.1,455.3 496.6,455.5 496.1,455.5 495.6,455.5 495.1,455.5 494.6,455.5 494.1,455.6 493.6,455.6 493.1,455.6 492.6,455.6 492.1,455.7 491.6,455.7 491.1,455.7 490.6,455.7 490.1,455.8 489.6,455.8 489.1,455.8 488.6,455.8 488.1,455.8 487.6,455.9 487.1,455.9 486.6,455.9 486.1,455.9 485.6,456.0 485.1,456.0 484.6,456.0 484.1,456.0 483.6,456.1 483.1,456.1 482.6,456.1 482.1,456.1 481.6,456.1 481.1,456.2 480.6,456.2 480.1,456.2 479.6,456.2 479.1,456.3 478.6,456.3 478.1,456.3 477.6,456.3 477.1,456.4 476.6,456.4 476.1,456.4 475.6,456.4 475.1,350.0 474.6,350.0 474.1,350.0 473.6,350.0 473.1,350.0 472.6,350.0 472.1,350.0 471.6,350.0 471.1,350.0 470.6,350.0 470.1,350.0 469.6,350.0 469.1,350.0 468.6,350.0 468.1,350.0 467.6,350.0 467.1,350.0 466.6,350.0 466.1,350.0 465.6,350.0 465.1,350.0 464.6,350.0 464.1,350.0 463.6,350.0 463.1,350.0 462.6,350.0 462.1,350.0 461.6,350.0 461.1,350.0 460.6,350.0 460.1,350.0 459.6,350.0 459.1,350.0 458.6,350.0 458.1,350.0 457.6,350.0 457.1,350.0 456.6,350.0 456.1,350.0 455.6,350.0 455.1,350.0 454.6,350.0 454.1,350.0 453.6,350.0 453.1,350.0 452.6,350.0 452.1,350.0 451.6,350.0 451.1,350.0 450.6,350.0 450.1,350.0 449.6,350.0 449.1,350.0 448.6,350.0 448.1,350.0 447.6,350.0 447.1,350.0 446.6,350.0 446.1,350.0 445.6,350.0 445.1,350.0 444.6,350.0 444.1,350.0 443.6,350.0 443.1,350.0 442.6,350.0 442.1,350.0 441.6,350.0 441.1,350.0 440.6,350.0 440.1,350.0 439.6,350.0 439.1,350.0 438.6,350.0 438.1,350.0 437.6,350.0 437.1,350.0 436.6,350.0 436.1,350.0 435.6,350.0 435.1,350.0 434.6,350.0 434.1,350.0 433.6,350.0 433.1,350.0 432.6,350.0 432.1,350.0 431.6,350.0 431.1,350.0 430.6,350.0 430.1,350.0 429.6,350.0 429.1,356.1 428.6,356.4 428.1,356.7 427.6,357.1 427.1,357.4 426.6,357.7 426.1,358.0 425.6,358.3 425.1,358.6 424.6,358.9 424.1,359.3 423.6,359.6 423.1,359.9 422.6,360.2 422.1,360.5 421.6,360.8 421.1,361.1 420.6,361.5 420.1,361.8 419.6,362.1 419.1,362.4 418.6,362.7 418.1,363.0 417.6,363.4 417.1,363.7 416.6,364.0 416.1,364.3 415.6,364.6 415.1,364.9 414.6,365.2 414.1,365.6 413.6,366.1 413.1,368.7 412.6,371.2 412.1,373.8 411.6,376.3 411.1,378.9 410.6,381.5 410.1,384.0 409.6,386.6 409.1,389.1 408.6,391.7 408.1,394.3 407.6,396.8 407.1,399.4 406.6,401.9 406.1,404.5 405.6,407.1 405.1,409.6 404.6,412.2 404.1,414.7 403.6,417.3 403.1,419.9 402.6,422.4 402.1,425.0 401.6,427.5 401.1,430.1 400.6,432.7 400.1,435.2 399.6,437.8 399.1,440.3 398.6,442.9 398.1,445.5 397.6,448.0 397.1,450.6 396.6,453.1 396.1,455.4 395.6,455.5 395.1,455.5 394.6,455.5 394.1,455.6 393.6,455.6 393.1,455.7 392.6,455.7 392.1,455.7 391.6,455.8 391.1,455.8 390.6,455.8 390.1,455.9 389.6,455.9 389.1,455.9 388.6,456.0 388.1,456.0 387.6,456.0 387.1,456.1 386.6,456.1 386.1,456.1 385.6,456.2 385.1,456.2 384.6,456.3 384.1,456.3 383.6,456.3 383.1,456.4 382.6,456.4 382.1,357.7 381.6,358.4 381.1,359.0 380.6,359.7 380.1,360.4 379.6,361.1 379.1,361.7 378.6,362.4 378.1,363.1 377.6,363.8 377.1,364.4 376.6,365.1 376.1,366.8 375.6,368.9 375.1,371.1 374.6,373.3 374.1,375.4 373.6,377.6 373.1,379.8 372.6,381.9 372.1,384.2 371.6,386.6 371.1,389.0 370.6,391.4 370.1,393.8 369.6,396.2 369.1,398.8 368.6,401.4 368.1,404.0 367.6,406.6 367.1,409.2 366.6,411.8 366.1,414.5 365.6,417.4 365.1,420.4 364.6,423.5 364.1,426.6 363.6,429.7 363.1,432.7 362.6,434.2 362.1,435.4 361.6,436.6 361.1,437.8 360.6,439.0 360.1,440.2 359.6,441.4 359.1,442.6 358.6,443.8 358.1,445.0 357.6,446.2 357.1,447.4 356.6,448.6 356.1,449.5 355.6,450.3 355.1,451.1 354.6,451.9 354.1,452.7 353.6,453.6 353.1,454.4 352.6,455.2 352.1,455.5 351.6,455.5 351.1,455.5 350.6,455.5 350.1,455.6 349.6,455.6 349.1,455.6 348.6,455.7 348.1,455.7 347.6,455.7 347.1,455.7 346.6,455.8 346.1,455.8 345.6,455.8 345.1,455.9 344.6,455.9 344.1,455.9 343.6,455.9 343.1,456.0 342.6,456.0 342.1,456.0 341.6,456.1 341.1,456.1 340.6,456.1 340.1,456.2 339.6,456.2 339.1,456.2 338.6,456.2 338.1,456.3 337.6,456.3 337.1,456.3 336.6,456.4 336.1,456.4 335.6,456.4 335.1,356.4 334.6,356.8 334.1,357.1 333.6,357.4 333.1,357.7 332.6,358.0 332.1,358.3 331.6,358.6 331.1,358.9 330.6,359.2 330.1,359.5 329.6,359.8 329.1,360.1 328.6,360.4 328.1,360.7 327.6,361.0 327.1,361.3 326.6,361.6 326.1,361.9 325.6,362.2 325.1,362.6 324.6,362.9 324.1,363.2 323.6,363.5 323.1,363.8 322.6,364.1 322.1,364.4 321.6,364.7 321.1,365.0 320.6,365.3 320.1,365.6 319.6,366.4 319.1,369.0 318.6,371.5 318.1,374.1 317.6,376.6 317.1,379.2 316.6,381.8 316.1,384.3 315.6,386.9 315.1,389.4 314.6,392.0 314.1,394.6 313.6,397.1 313.1,399.7 312.6,402.2 312.1,404.8 311.6,407.4 311.1,409.9 310.6,412.5 310.1,415.0 309.6,417.6 309.1,420.2 308.6,422.7 308.1,425.3 307.6,427.8 307.1,430.4 306.6,433.0 306.1,435.5 305.6,438.1 305.1,440.6 304.6,443.2 304.1,445.8 303.6,448.3 303.1,450.9 302.6,453.4 302.1,455.4 301.6,455.5 301.1,455.5 300.6,455.6 300.1,455.6 299.6,455.6 299.1,455.7 298.6,455.7 298.1,455.7 297.6,455.8 297.1,455.8 296.6,455.8 296.1,455.9 295.6,455.9 295.1,456.0 294.6,456.0 294.1,456.0 293.6,456.1 293.1,456.1 292.6,456.1 292.1,456.2 291.6,456.2 291.1,456.2 290.6,456.3 290.1,456.3 289.6,456.4 289.1,456.4 288.6,350.0 288.1,350.0 287.6,350.0 287.1,350.0 286.6,350.0 286.1,350.0 285.6,350.0 285.1,350.0 284.6,350.0 284.1,350.0 283.6,350.0 283.1,350.0 282.6,350.0 282.1,350.0 281.6,350.0 281.1,350.0 280.6,350.0 280.1,350.0 279.6,350.0 279.1,350.0 278.6,350.0 278.1,350.0 277.6,350.0 277.1,350.0 276.6,350.0 276.1,350.0 275.6,350.0 275.1,350.0 274.6,350.0 274.1,350.0 273.6,350.0 273.1,350.0 272.6,350.0 272.1,350.0 271.6,350.0 271.1,350.0 270.6,350.0 270.1,350.0 269.6,350.0 269.1,350.0 268.6,350.0 268.1,350.0 267.6,350.0 267.1,350.0 266.6,350.0 266.1,350.0 265.6,350.0 265.1,350.0 264.6,350.0 264.1,350.0 263.6,350.0 263.1,350.0 262.6,350.0 262.1,350.0 261.6,350.0 261.1,350.0 260.6,350.0 260.1,350.0 259.6,350.0 259.1,350.0 258.6,350.0 258.1,350.0 257.6,350.0 257.1,350.0 256.6,350.0 256.1,350.0 255.6,350.0 255.1,350.0 254.6,350.0 254.1,350.0 253.6,350.0 253.1,350.0 252.6,350.0 252.1,350.0 251.6,350.0 251.1,350.0 250.6,350.0 250.1,350.0 249.6,350.0 249.1,350.0 248.6,350.0 248.1,350.0 247.6,350.0 247.1,350.0 246.6,350.0 246.1,350.0 245.6,350.0 245.1,350.0 244.6,350.0 244.1,350.0 243.6,350.0 243.1,350.0 242.6,350.0 242.1,361.2 241.6,361.5 241.1,361.9 240.6,362.3 240.1,362.6 239.6,363.0 239.1,363.4 238.6,363.7 238.1,364.1 237.6,364.5 237.1,364.8 236.6,365.2 236.1,365.6 235.6,365.9 235.1,366.3 234.6,366.7 234.1,367.0 233.6,367.4 233.1,367.8 232.6,368.1 232.1,368.5 231.6,368.9 231.1,369.2 230.6,369.6 230.1,370.0 229.6,370.3 229.1,370.7 228.6,371.1 228.1,371.4 227.6,371.8 227.1,372.2 226.6,372.5 226.1,373.6 225.6,376.2 225.1,378.8 224.6,381.4 224.1,384.0 223.6,386.6 223.1,389.1 222.6,391.7 222.1,394.3 221.6,396.9 221.1,399.5 220.6,402.1 220.1,404.6 219.6,407.2 219.1,409.8 218.6,412.4 218.1,415.0 217.6,417.6 217.1,420.1 216.6,422.7 216.1,425.3 215.6,427.9 215.1,430.5 214.6,433.1 214.1,435.6 213.6,438.2 213.1,440.8 212.6,443.4 212.1,446.0 211.6,448.6 211.1,451.1 210.6,453.7 210.1,455.4 209.6,455.5 209.1,455.5 208.6,455.5 208.1,455.6 207.6,455.6 207.1,455.6 206.6,455.7 206.1,455.7 205.6,455.7 205.1,455.8 204.6,455.8 204.1,455.8 203.6,455.9 203.1,455.9 202.6,455.9 202.1,456.0 201.6,456.0 201.1,456.0 200.6,456.1 200.1,456.1 199.6,456.1 199.1,456.2 198.6,456.2 198.1,456.2 197.6,456.3 197.1,456.3 196.6,456.3 196.1,456.4 195.6,456.4 195.1,350.0 194.6,350.0 194.1,350.0 193.6,350.0 193.1,350.0 192.6,350.0 192.1,350.0 191.6,350.0 191.1,350.0 190.6,350.0 190.1,350.0 189.6,350.0 189.1,350.0 188.6,350.0 188.1,350.0 187.6,350.0 187.1,350.0 186.6,350.0 186.1,350.0 185.6,350.0 185.1,350.0 184.6,350.0 184.1,350.0 183.6,350.0 183.1,350.0 182.6,350.0 182.1,350.0 181.6,350.0 181.1,350.0 180.6,350.0 180.1,350.0 179.6,350.0 179.1,350.0 178.6,350.0 178.1,350.0 177.6,350.0 177.1,350.0 176.6,350.0 176.1,350.0 175.6,350.0 175.1,350.0 174.6,350.0 174.1,350.0 173.6,350.0 173.1,350.0 172.6,350.0 172.1,350.0 171.6,350.0 171.1,350.0 170.6,350.0 170.1,350.0 169.6,350.0 169.1,350.0 168.6,350.0 168.1,350.0 167.6,350.0 167.1,350.0 166.6,350.0 166.1,350.0 165.6,350.0 165.1,350.0 164.6,350.0 164.1,350.0 163.6,350.0 163.1,350.0 162.6,350.0 162.1,350.0 161.6,350.0 161.1,350.0 160.6,350.0 160.1,350.0 159.6,350.0 159.1,350.0 158.6,350.0 158.1,350.0 157.6,350.0 157.1,350.0 156.6,350.0 156.1,350.0 155.6,350.0 155.1,350.0 154.6,350.0 154.1,350.0 153.6,350.0 153.1,350.0 152.6,350.0 152.1,350.0 151.6,350.0 151.1,350.0 150.6,350.0 150.1,350.0 149.6,350.0 149.1,350.0 148.6,364.9 148.1,399.6 147.6,399.6 147.1,399.7 146.6,399.7 146.1,399.8 145.6,399.9 145.1,399.9 144.6,400.0 144.1,400.1 143.6,400.1 143.1,400.2 142.6,400.3 142.1,400.3 141.6,400.4 141.1,400.5 140.6,400.8 140.1,401.6 139.6,402.3 139.1,403.1 138.6,403.8 138.1,404.5 137.6,405.3 137.1,406.0 136.6,406.8 136.1,407.5 135.6,408.2 135.1,408.9 134.6,409.6 134.1,410.3 133.6,411.0 133.1,412.3 132.6,414.3 132.1,416.3 131.6,418.2 131.1,420.2 130.6,422.2 130.1,424.2 129.6,425.6 129.1,426.3 128.6,427.1 128.1,427.8 127.6,428.6 127.1,429.3 126.6,430.0 126.1,430.8 125.6,431.9 125.1,433.3 124.6,434.8 124.1,436.3 123.6,437.8 123.1,439.3 122.6,440.8 122.1,442.3 121.6,445.0 121.1,449.1 120.6,453.2"/>
<polygon fill="#b4b5c0" fill-opacity="0.17" points="120.6,245.7 121.1,250.8 121.6,253.4 122.1,257.7 122.6,258.1 123.1,260.5 123.6,261.1 124.1,261.7 124.6,265.1 125.1,265.1 125.6,266.6 126.1,267.3 126.6,267.8 127.1,270.1 127.6,269.0 128.1,269.9 128.6,273.0 129.1,273.4 129.6,274.2 130.1,276.0 130.6,277.4 131.1,280.0 131.6,279.9 132.1,283.7 132.6,285.6 133.1,288.0 133.6,286.4 134.1,289.2 134.6,289.9 135.1,288.5 135.6,292.1 136.1,292.7 136.6,293.6 137.1,292.8 137.6,295.1 138.1,294.8 138.6,295.0 139.1,294.9 139.6,298.1 140.1,298.1 140.6,299.4 141.1,299.5 141.6,298.9 142.1,300.1 142.6,298.4 143.1,298.1 143.6,299.8 144.1,298.1 144.6,299.9 145.1,298.6 145.6,300.4 146.1,300.0 146.6,298.6 147.1,298.6 147.6,300.8 148.1,298.0 148.6,255.4 149.1,254.6 149.6,255.2 150.1,255.8 150.6,256.7 151.1,254.0 151.6,254.5 152.1,255.5 152.6,255.4 153.1,256.9 153.6,257.0 154.1,257.9 154.6,257.9 155.1,258.6 155.6,256.8 156.1,259.8 156.6,260.4 157.1,257.9 157.6,261.0 158.1,260.7 158.6,261.9 159.1,262.0 159.6,262.4 160.1,263.0 160.6,261.0 161.1,262.4 161.6,263.5 162.1,263.1 162.6,262.8 163.1,263.9 163.6,264.3 164.1,264.2 164.6,264.8 165.1,262.6 165.6,264.2 166.1,265.2 166.6,265.3 167.1,265.7 167.6,263.6 168.1,266.2 168.6,265.8 169.1,266.6 169.6,263.9 170.1,266.9 170.6,266.8 171.1,266.2 171.6,265.4 172.1,266.0 172.6,266.1 173.1,266.2 173.6,265.7 174.1,266.1 174.6,266.9 175.1,268.1 175.6,269.7 176.1,270.7 176.6,273.4 177.1,275.8 177.6,276.2 178.1,278.9 178.6,280.4 179.1,280.4 179.6,283.1 180.1,285.3 180.6,286.8 181.1,287.5 181.6,287.9 182.1,290.3 182.6,291.6 183.1,296.0 183.6,298.6 184.1,299.5 184.6,299.8 185.1,303.5 185.6,305.2 186.1,306.2 186.6,308.9 187.1,310.6 187.6,311.1 188.1,314.2 188.6,315.3 189.1,316.1 189.6,314.9 190.1,318.0 190.6,316.1 191.1,319.1 191.6,320.6 192.1,318.3 192.6,321.3 193.1,320.4 193.6,321.5 194.1,322.0 194.6,325.0 195.1,325.2 195.6,326.6 196.1,350.0 196.6,350.0 197.1,350.0 197.6,350.0 198.1,350.0 198.6,350.0 199.1,350.0 199.6,350.0 200.1,350.0 200.6,350.0 201.1,350.0 201.6,350.0 202.1,350.0 202.6,350.0 203.1,350.0 203.6,350.0 204.1,350.0 204.6,350.0 205.1,350.0 205.6,350.0 206.1,350.0 206.6,350.0 207.1,350.0 207.6,350.0 208.1,350.0 208.6,350.0 209.1,350.0 209.6,350.0 210.1,350.0 210.6,350.0 211.1,350.0 211.6,350.0 212.1,350.0 212.6,350.0 213.1,350.0 213.6,350.0 214.1,350.0 214.6,350.0 215.1,350.0 215.6,350.0 216.1,350.0 216.6,350.0 217.1,350.0 217.6,350.0 218.1,350.0 218.6,350.0 219.1,350.0 219.6,350.0 220.1,350.0 220.6,350.0 221.1,350.0 221.6,350.0 222.1,350.0 222.6,350.0 223.1,350.0 223.6,350.0 224.1,350.0 224.6,350.0 225.1,350.0 225.6,323.3 226.1,326.8 226.6,327.2 227.1,328.2 227.6,328.7 228.1,329.3 228.6,328.1 229.1,329.1 229.6,329.9 230.1,330.6 230.6,330.6 231.1,330.8 231.6,331.9 232.1,331.1 232.6,332.6 233.1,332.5 233.6,332.7 234.1,333.7 234.6,333.1 235.1,333.6 235.6,334.8 236.1,335.2 236.6,335.0 237.1,335.6 237.6,336.3 238.1,336.2 238.6,336.8 239.1,337.4 239.6,336.6 240.1,338.1 240.6,337.7 241.1,338.5 241.6,339.0 242.1,260.2 242.6,258.9 243.1,260.3 243.6,260.0 244.1,260.7 244.6,260.6 245.1,258.1 245.6,260.3 246.1,260.5 246.6,261.0 247.1,261.6 247.6,261.4 248.1,261.8 248.6,261.8 249.1,260.7 249.6,262.2 250.1,262.4 250.6,260.4 251.1,262.2 251.6,260.9 252.1,262.8 252.6,262.9 253.1,263.4 253.6,262.9 254.1,263.3 254.6,262.5 255.1,261.7 255.6,264.1 256.1,263.5 256.6,262.5 257.1,264.4 257.6,265.4 258.1,265.5 258.6,265.4 259.1,266.3 259.6,267.1 260.1,267.3 260.6,268.0 261.1,268.1 261.6,268.7 262.1,269.2 262.6,269.9 263.1,270.2 263.6,268.3 264.1,269.0 264.6,272.1 265.1,273.0 265.6,272.4 266.1,274.1 266.6,286.3 267.1,306.4 267.6,328.5 268.1,337.4 268.6,336.8 269.1,337.7 269.6,337.8 270.1,337.8 270.6,338.1 271.1,337.7 271.6,337.4 272.1,337.8 272.6,338.4 273.1,338.6 273.6,338.0 274.1,338.9 274.6,338.2 275.1,339.3 275.6,339.4 276.1,339.5 276.6,339.0 277.1,339.2 277.6,339.3 278.1,340.0 278.6,339.2 279.1,339.3 279.6,339.8 280.1,340.1 280.6,340.7 281.1,340.6 281.6,340.1 282.1,340.5 282.6,340.7 283.1,341.3 283.6,340.5 284.1,341.3 284.6,341.8 285.1,341.7 285.6,341.9 286.1,341.7 286.6,342.2 287.1,342.2 287.6,341.8 288.1,342.6 288.6,342.8 289.1,342.8 289.6,350.0 290.1,350.0 290.6,350.0 291.1,350.0 291.6,350.0 292.1,350.0 292.6,350.0 293.1,350.0 293.6,350.0 294.1,350.0 294.6,350.0 295.1,350.0 295.6,350.0 296.1,350.0 296.6,350.0 297.1,350.0 297.6,350.0 298.1,350.0 298.6,350.0 299.1,350.0 299.6,350.0 300.1,350.0 300.6,350.0 301.1,350.0 301.6,350.0 302.1,350.0 302.6,350.0 303.1,350.0 303.6,350.0 304.1,350.0 304.6,350.0 305.1,350.0 305.6,350.0 306.1,350.0 306.6,350.0 307.1,350.0 307.6,350.0 308.1,350.0 308.6,350.0 309.1,350.0 309.6,350.0 310.1,350.0 310.6,350.0 311.1,350.0 311.6,350.0 312.1,350.0 312.6,350.0 313.1,350.0 313.6,350.0 314.1,350.0 314.6,350.0 315.1,350.0 315.6,350.0 316.1,350.0 316.6,350.0 317.1,350.0 317.6,323.2 318.1,326.6 318.6,328.4 319.1,330.6 319.6,334.4 320.1,335.0 320.6,335.5 321.1,335.8 321.6,335.8 322.1,336.3 322.6,336.5 323.1,337.0 323.6,335.9 324.1,337.7 324.6,336.6 325.1,338.3 325.6,338.3 326.1,338.5 326.6,338.1 327.1,339.0 327.6,339.3 328.1,340.1 328.6,340.4 329.1,340.0 329.6,341.0 330.1,340.6 330.6,341.6 331.1,341.3 331.6,342.2 332.1,342.0 332.6,342.8 333.1,343.1 333.6,343.5 334.1,343.6 334.6,343.7 335.1,343.9 335.6,344.6 336.1,350.0 336.6,350.0 337.1,350.0 337.6,350.0 338.1,350.0 338.6,350.0 339.1,350.0 339.6,350.0 340.1,350.0 340.6,350.0 341.1,350.0 341.6,350.0 342.1,350.0 342.6,350.0 343.1,350.0 343.6,350.0 344.1,350.0 344.6,350.0 345.1,350.0 345.6,350.0 346.1,350.0 346.6,350.0 347.1,350.0 347.6,350.0 348.1,350.0 348.6,350.0 349.1,350.0 349.6,350.0 350.1,350.0 350.6,350.0 351.1,350.0 351.6,350.0 352.1,350.0 352.6,350.0 353.1,350.0 353.6,350.0 354.1,350.0 354.6,350.0 355.1,350.0 355.6,350.0 356.1,350.0 356.6,350.0 357.1,350.0 357.6,350.0 358.1,350.0 358.6,350.0 359.1,350.0 359.6,295.5 360.1,295.2 360.6,295.5 361.1,297.1 361.6,298.5 362.1,298.6 362.6,298.3 363.1,298.6 363.6,300.7 364.1,304.3 364.6,305.6 365.1,307.9 365.6,308.7 366.1,309.3 366.6,313.2 367.1,314.0 367.6,316.5 368.1,317.9 368.6,316.8 369.1,319.0 369.6,320.2 370.1,322.6 370.6,324.6 371.1,327.1 371.6,326.6 372.1,329.3 372.6,331.4 373.1,332.9 373.6,333.4 374.1,335.5 374.6,327.1 375.1,329.2 375.6,331.2 376.1,334.0 376.6,334.4 377.1,336.4 377.6,337.0 378.1,337.3 378.6,338.1 379.1,339.0 379.6,339.8 380.1,340.1 380.6,341.0 381.1,341.7 381.6,342.3 382.1,342.7 382.6,343.2 383.1,350.0 383.6,350.0 384.1,350.0 384.6,350.0 385.1,350.0 385.6,350.0 386.1,350.0 386.6,350.0 387.1,350.0 387.6,350.0 388.1,350.0 388.6,350.0 389.1,350.0 389.6,350.0 390.1,350.0 390.6,350.0 391.1,350.0 391.6,350.0 392.1,350.0 392.6,350.0 393.1,350.0 393.6,350.0 394.1,350.0 394.6,350.0 395.1,350.0 395.6,350.0 396.1,350.0 396.6,350.0 397.1,350.0 397.6,350.0 398.1,350.0 398.6,350.0 399.1,350.0 399.6,350.0 400.1,350.0 400.6,350.0 401.1,350.0 401.6,350.0 402.1,350.0 402.6,350.0 403.1,350.0 403.6,350.0 404.1,350.0 404.6,350.0 405.1,350.0 405.6,350.0 406.1,350.0 406.6,350.0 407.1,350.0 407.6,350.0 408.1,350.0 408.6,350.0 409.1,350.0 409.6,350.0 410.1,350.0 410.6,350.0 411.1,350.0 411.6,324.3 412.1,326.6 412.6,327.4 413.1,330.9 413.6,333.7 414.1,335.2 414.6,335.6 415.1,335.8 415.6,335.4 416.1,335.3 416.6,335.7 417.1,335.9 417.6,337.4 418.1,337.6 418.6,337.5 419.1,338.4 419.6,338.0 420.1,338.4 420.6,338.9 421.1,339.3 421.6,340.0 422.1,339.8 422.6,340.6 423.1,340.2 423.6,341.3 424.1,341.6 424.6,341.9 425.1,342.2 425.6,342.4 426.1,342.2 426.6,342.8 427.1,342.8 427.6,343.7 428.1,344.0 428.6,344.0 429.1,260.3 429.6,259.1 430.1,259.9 430.6,258.5 431.1,258.5 431.6,261.0 432.1,261.0 432.6,260.2 433.1,261.3 433.6,260.8 434.1,261.2 434.6,261.8 435.1,261.6 435.6,261.4 436.1,262.2 436.6,260.9 437.1,262.2 437.6,262.4 438.1,261.9 438.6,259.9 439.1,262.2 439.6,261.0 440.1,262.3 440.6,263.4 441.1,262.0 441.6,261.3 442.1,264.1 442.6,262.8 443.1,263.5 443.6,264.0 444.1,265.3 444.6,265.4 445.1,265.4 445.6,266.3 446.1,266.5 446.6,267.3 447.1,267.1 447.6,267.1 448.1,268.5 448.6,268.8 449.1,267.9 449.6,267.3 450.1,267.9 450.6,271.1 451.1,270.5 451.6,271.9 452.1,272.6 452.6,274.0 453.1,272.3 453.6,292.6 454.1,313.6 454.6,333.6 455.1,337.2 455.6,337.1 456.1,337.1 456.6,337.1 457.1,337.5 457.6,337.2 458.1,338.1 458.6,338.3 459.1,337.5 459.6,337.5 460.1,338.6 460.6,338.4 461.1,338.5 461.6,339.2 462.1,339.3 462.6,339.3 463.1,339.1 463.6,339.4 464.1,338.8 464.6,338.8 465.1,339.6 465.6,340.1 466.1,340.3 466.6,339.8 467.1,339.9 467.6,340.4 468.1,340.5 468.6,340.6 469.1,340.6 469.6,340.7 470.1,340.8 470.6,340.9 471.1,341.5 471.6,341.5 472.1,341.9 472.6,341.8 473.1,341.6 473.6,341.4 474.1,341.9 474.6,342.6 475.1,342.7 475.6,342.6 476.1,343.1 476.6,350.0 477.1,350.0 477.6,350.0 478.1,350.0 478.6,350.0 479.1,350.0 479.6,350.0 480.1,350.0 480.6,350.0 481.1,350.0 481.6,350.0 482.1,350.0 482.6,350.0 483.1,350.0 483.6,350.0 484.1,350.0 484.6,350.0 485.1,350.0 485.6,350.0 486.1,350.0 486.6,350.0 487.1,350.0 487.6,350.0 488.1,350.0 488.6,350.0 489.1,350.0 489.6,350.0 490.1,350.0 490.6,350.0 491.1,350.0 491.6,350.0 492.1,350.0 492.6,350.0 493.1,350.0 493.6,350.0 494.1,350.0 494.6,350.0 495.1,350.0 495.6,350.0 496.1,350.0 496.6,350.0 497.1,244.5 497.6,247.9 498.1,254.7 498.6,258.0 499.1,261.9 499.6,264.8 500.1,265.2 500.6,268.0 501.1,269.4 501.6,270.5 502.1,271.1 502.6,272.7 503.1,273.3 503.6,272.1 504.1,276.6 504.6,278.3 505.1,280.1 505.6,280.2 506.1,283.5 506.6,285.3 507.1,287.2 507.6,286.6 508.1,288.0 508.6,290.3 509.1,290.7 509.6,292.1 510.1,291.9 510.6,292.8 511.1,294.5 511.6,295.1 512.1,293.8 512.6,294.5 513.1,297.3 513.6,298.2 514.1,298.9 514.6,299.5 515.1,300.3 515.6,299.5 516.1,300.6 516.6,299.3 517.1,297.9 517.6,300.8 518.1,299.4 518.6,300.1 519.1,300.4 519.6,301.0 520.1,300.6 520.6,300.9 521.1,300.9 521.6,300.9 522.1,300.9 522.6,254.9 523.1,255.6 523.6,253.6 524.1,256.4 524.6,254.3 525.1,256.9 525.6,257.2 526.1,257.7 526.6,257.5 527.1,257.9 527.6,257.1 528.1,258.0 528.6,257.7 529.1,257.1 529.6,259.4 530.1,259.7 530.6,260.1 531.1,260.5 531.6,258.2 532.1,260.6 532.6,261.9 533.1,262.0 533.6,262.8 534.1,260.8 534.6,260.7 535.1,262.0 535.6,262.4 536.1,263.6 536.6,264.1 537.1,262.0 537.6,263.4 538.1,264.5 538.6,263.1 539.1,263.5 539.6,264.4 540.1,264.0 540.6,264.5 541.1,265.8 541.6,265.9 542.1,265.6 542.6,265.6 543.1,266.6 543.6,264.2 544.1,266.2 544.6,265.2 545.1,267.4 545.6,267.0 546.1,265.7 546.6,265.7 547.1,267.8 547.6,266.3 548.1,268.6 548.6,268.8 549.1,267.6 549.6,271.0 550.1,273.1 550.6,274.0 551.1,276.4 551.6,276.8 552.1,278.6 552.6,280.8 553.1,282.7 553.6,284.2 554.1,286.0 554.6,287.6 555.1,287.9 555.6,291.2 556.1,291.3 556.6,294.2 557.1,297.4 557.6,297.5 558.1,301.1 558.6,302.9 559.1,303.6 559.6,306.3 560.1,306.4 560.6,309.6 561.1,309.0 561.6,310.3 562.1,314.5 562.6,316.3 563.1,315.7 563.6,317.3 564.1,316.3 564.6,319.6 565.1,319.6 565.6,318.8 566.1,321.0 566.6,321.8 567.1,322.3 567.6,322.5 568.1,324.1 568.6,324.2 569.1,324.7 569.6,343.7 570.1,350.0 570.6,350.0 571.1,350.0 571.6,350.0 572.1,350.0 572.6,350.0 573.1,350.0 573.6,350.0 574.1,350.0 574.6,350.0 575.1,350.0 575.6,350.0 576.1,350.0 576.6,350.0 577.1,350.0 577.6,350.0 578.1,350.0 578.6,350.0 579.1,350.0 579.6,350.0 580.1,350.0 580.6,350.0 581.1,350.0 581.6,350.0 582.1,350.0 582.6,350.0 583.1,350.0 583.6,350.0 584.1,350.0 584.6,350.0 585.1,350.0 585.6,350.0 586.1,350.0 586.6,350.0 587.1,350.0 587.6,350.0 588.1,350.0 588.6,350.0 589.1,350.0 589.6,350.0 590.1,350.0 590.6,350.0 591.1,350.0 591.6,350.0 592.1,350.0 592.6,350.0 593.1,350.0 593.6,350.0 594.1,350.0 594.6,350.0 595.1,350.0 595.6,350.0 596.1,350.0 596.6,350.0 597.1,350.0 597.6,350.0 598.1,350.0 598.6,350.0 599.1,323.1 599.6,325.7 600.1,326.6 600.6,328.4 601.1,327.6 601.6,329.1 602.1,329.1 602.6,327.6 603.1,328.6 603.6,330.4 604.1,331.0 604.6,331.2 605.1,331.5 605.6,330.6 606.1,331.9 606.6,332.8 607.1,331.8 607.6,332.2 608.1,333.9 608.6,333.8 609.1,334.3 609.6,334.5 610.1,334.3 610.6,334.4 611.1,336.1 611.6,336.1 612.1,336.4 612.6,337.2 613.1,337.5 613.6,337.1 614.1,338.1 614.6,338.5 615.1,339.1 615.6,339.0 616.1,258.1 616.6,259.4 617.1,258.0 617.6,258.8 618.1,259.5 618.6,260.8 619.1,258.9 619.6,258.6 620.1,261.4 620.6,259.6 621.1,261.1 621.6,261.6 622.1,260.4 622.6,262.1 623.1,262.2 623.6,262.0 624.1,261.4 624.6,261.7 625.1,260.2 625.6,260.8 626.1,261.2 626.6,263.0 627.1,263.2 627.6,263.7 628.1,264.0 628.6,262.5 629.1,262.9 629.6,262.4 630.1,262.1 630.6,262.2 631.1,265.1 631.6,264.0 632.1,263.4 632.6,265.9 633.1,265.9 633.6,267.4 634.1,267.6 634.6,266.0 635.1,266.0 635.6,268.1 636.1,269.3 636.6,268.8 637.1,270.4 637.6,271.0 638.1,271.6 638.6,272.2 639.1,272.4 639.6,273.2 640.1,275.9 640.6,297.8 641.1,318.6 641.6,337.3 642.1,337.3 642.6,337.0 643.1,337.7 643.6,337.7 644.1,337.0 644.6,338.1 645.1,337.2 645.6,338.1 646.1,338.5 646.6,338.6 647.1,338.5 647.6,338.9 648.1,339.0 648.6,339.1 649.1,339.0 649.6,339.5 650.1,339.3 650.6,339.3 651.1,339.8 651.6,340.0 652.1,340.1 652.6,339.9 653.1,339.5 653.6,340.1 654.1,340.3 654.6,340.2 655.1,340.8 655.6,340.0 656.1,340.8 656.6,340.6 657.1,340.8 657.6,340.7 658.1,340.8 658.6,341.7 659.1,341.9 659.6,341.6 660.1,342.1 660.6,342.3 661.1,342.4 661.6,341.7 662.1,342.5 662.6,342.3 663.1,350.0 663.6,350.0 664.1,350.0 664.6,350.0 665.1,350.0 665.6,350.0 666.1,350.0 666.6,350.0 667.1,350.0 667.6,350.0 668.1,350.0 668.6,350.0 669.1,350.0 669.6,350.0 670.1,350.0 670.6,350.0 671.1,350.0 671.6,350.0 672.1,350.0 672.6,350.0 673.1,350.0 673.6,350.0 674.1,350.0 674.6,350.0 675.1,350.0 675.6,350.0 676.1,350.0 676.6,350.0 677.1,350.0 677.6,350.0 678.1,350.0 678.6,350.0 679.1,350.0 679.6,350.0 680.1,350.0 680.6,350.0 681.1,350.0 681.6,350.0 682.1,350.0 682.6,350.0 683.1,350.0 683.6,350.0 684.1,350.0 684.6,350.0 685.1,350.0 685.6,350.0 686.1,350.0 686.6,350.0 687.1,350.0 687.6,350.0 688.1,350.0 688.6,350.0 689.1,350.0 689.6,350.0 690.1,350.0 690.6,350.0 691.1,322.1 691.6,326.2 692.1,327.2 692.6,331.5 693.1,333.9 693.6,333.6 694.1,334.5 694.6,334.7 695.1,334.8 695.6,335.3 696.1,336.2 696.6,336.0 697.1,336.2 697.6,336.3 698.1,336.7 698.6,336.9 699.1,338.4 699.6,338.7 700.1,338.9 700.6,339.1 701.1,339.2 701.6,339.9 702.1,339.6 702.6,339.7 703.1,340.8 703.6,340.8 704.1,341.4 704.6,341.2 705.1,342.2 705.6,342.5 706.1,342.2 706.6,342.8 707.1,343.3 707.6,343.6 708.1,343.7 708.6,344.3 709.1,344.3 709.6,344.6 710.1,350.0 710.6,350.0 711.1,350.0 711.6,350.0 712.1,350.0 712.6,350.0 713.1,350.0 713.6,350.0 714.1,350.0 714.6,350.0 715.1,350.0 715.6,350.0 716.1,350.0 716.6,350.0 717.1,350.0 717.6,350.0 718.1,350.0 718.6,350.0 719.1,350.0 719.6,350.0 720.1,350.0 720.6,350.0 721.1,350.0 721.6,350.0 722.1,350.0 722.6,350.0 723.1,350.0 723.6,350.0 724.1,350.0 724.6,350.0 725.1,350.0 725.6,350.0 726.1,350.0 726.6,350.0 727.1,350.0 727.6,350.0 728.1,350.0 728.6,350.0 729.1,350.0 729.6,350.0 730.1,350.0 730.6,350.0 731.1,350.0 731.6,350.0 732.1,350.0 732.6,350.0 733.1,350.0 733.6,295.9 734.1,296.6 734.6,297.3 735.1,295.2 735.6,298.7 736.1,298.4 736.6,299.8 737.1,298.8 737.6,300.4 738.1,303.2 738.6,306.4 739.1,309.1 739.6,310.4 740.1,312.5 740.6,314.2 741.1,313.4 741.6,316.9 742.1,316.4 742.6,320.5 743.1,321.5 743.6,323.3 744.1,324.0 744.6,325.9 745.1,326.0 745.6,329.2 746.1,330.9 746.6,331.3 747.1,333.2 747.6,333.5 748.1,335.3 748.6,328.3 749.1,328.7 749.6,332.8 750.1,334.5 750.6,335.8 751.1,336.1 751.6,336.5 752.1,337.7 752.6,337.5 753.1,338.6 753.6,340.0 754.1,340.3 754.6,341.4 755.1,341.9 755.6,342.3 756.1,343.5 756.6,350.0 757.1,350.0 757.6,350.0 758.1,350.0 758.6,350.0 759.1,350.0 759.6,350.0 760.1,350.0 760.6,350.0 761.1,350.0 761.6,350.0 762.1,350.0 762.6,350.0 763.1,350.0 763.6,350.0 764.1,350.0 764.6,350.0 765.1,350.0 765.6,350.0 766.1,350.0 766.6,350.0 767.1,350.0 767.6,350.0 768.1,350.0 768.6,350.0 769.1,350.0 769.6,350.0 770.1,350.0 770.6,350.0 771.1,350.0 771.6,350.0 772.1,350.0 772.6,350.0 773.1,350.0 773.6,350.0 774.1,350.0 774.6,350.0 775.1,350.0 775.6,350.0 776.1,350.0 776.6,350.0 777.1,350.0 777.6,350.0 778.1,350.0 778.6,350.0 779.1,350.0 779.6,350.0 780.1,350.0 780.6,350.0 781.1,350.0 781.6,350.0 782.1,350.0 782.6,350.0 783.1,350.0 783.6,350.0 784.1,350.0 784.6,350.0 785.1,350.0 785.6,350.0 786.1,350.0 786.6,350.0 787.1,321.8 787.6,325.2 788.1,329.0 788.6,331.6 789.1,332.7 789.6,335.2 790.1,334.1 790.6,335.8 791.1,336.3 791.6,336.4 792.1,335.7 792.6,337.3 793.1,337.5 793.6,337.6 794.1,338.3 794.6,338.1 795.1,338.8 795.6,338.9 796.1,339.8 796.6,339.9 797.1,340.2 797.6,340.4 798.1,340.6 798.6,341.6 799.1,342.0 799.6,342.4 800.1,342.3 800.6,343.0 801.1,343.5 801.6,343.5 802.1,343.9 802.6,344.2 803.1,257.6 803.6,260.2 804.1,258.7 804.6,260.7 805.1,260.1 805.6,259.7 806.1,261.2 806.6,261.3 807.1,260.7 807.6,260.2 808.1,261.2 808.6,261.6 809.1,260.0 809.6,262.0 810.1,260.4 810.6,259.8 811.1,260.8 811.6,261.4 812.1,262.9 812.6,261.5 813.1,263.1 813.6,262.3 814.1,263.4 814.6,263.7 815.1,262.6 815.6,262.2 816.1,262.9 816.6,262.4 817.1,264.8 817.6,265.0 818.1,265.5 818.6,264.9 819.1,266.3 819.6,266.7 820.1,265.9 820.6,267.2 821.1,267.8 821.6,268.2 822.1,266.7 822.6,269.3 823.1,269.8 823.6,269.8 824.1,269.6 824.6,270.2 825.1,271.0 825.6,272.6 826.1,270.4 826.6,271.4 827.1,278.9 827.6,302.1 828.1,323.0 828.6,336.7 829.1,337.4 829.6,337.4 830.1,337.7 830.6,337.6 831.1,338.0 831.6,338.1 832.1,337.9 832.6,337.2 833.1,337.4 833.6,338.0 834.1,338.8 834.6,339.0 835.1,338.4 835.6,339.1 836.1,339.3 836.6,338.3 837.1,339.6 837.6,339.6 838.1,339.1 838.6,340.0 839.1,340.1 839.6,340.0 840.1,339.5 840.6,340.3 841.1,340.7 841.6,340.5 842.1,340.9 842.6,341.1 843.1,340.7 843.6,340.3 844.1,340.9 844.6,340.9 845.1,341.7 845.6,341.8 846.1,341.8 846.6,341.5 847.1,342.0 847.6,341.6 848.1,342.5 848.6,342.3 849.1,342.6 849.6,342.9 850.1,350.0 850.6,350.0 851.1,350.0 851.6,350.0 852.1,350.0 852.6,350.0 853.1,350.0 853.6,350.0 854.1,350.0 854.6,350.0 855.1,350.0 855.6,350.0 856.1,350.0 856.6,350.0 857.1,350.0 857.6,350.0 858.1,350.0 858.6,350.0 859.1,350.0 859.6,350.0 860.1,350.0 860.6,350.0 861.1,350.0 861.6,350.0 862.1,350.0 862.6,350.0 863.1,350.0 863.6,350.0 864.1,350.0 864.6,350.0 865.1,350.0 865.1,350.0 864.6,350.0 864.1,350.0 863.6,350.0 863.1,350.0 862.6,350.0 862.1,350.0 861.6,350.0 861.1,350.0 860.6,350.0 860.1,350.0 859.6,350.0 859.1,350.0 858.6,350.0 858.1,350.0 857.6,350.0 857.1,350.0 856.6,350.0 856.1,350.0 855.6,350.0 855.1,350.0 854.6,350.0 854.1,350.0 853.6,350.0 853.1,350.0 852.6,350.0 852.1,350.0 851.6,350.0 851.1,350.0 850.6,350.0 850.1,350.0 849.6,357.1 849.1,357.5 848.6,358.0 848.1,357.5 847.6,357.8 847.1,357.7 846.6,358.4 846.1,357.9 845.6,358.4 845.1,358.2 844.6,359.0 844.1,358.6 843.6,358.8 843.1,359.6 842.6,359.7 842.1,359.0 841.6,359.4 841.1,359.2 840.6,360.1 840.1,360.2 839.6,360.7 839.1,360.4 838.6,359.9 838.1,360.2 837.6,361.1 837.1,360.3 836.6,360.5 836.1,361.0 835.6,360.8 835.1,361.3 834.6,361.9 834.1,361.1 833.6,361.8 833.1,362.4 832.6,362.2 832.1,362.2 831.6,361.8 831.1,362.5 830.6,362.2 830.1,362.8 829.6,362.3 829.1,362.4 828.6,362.8 828.1,377.5 827.6,396.7 827.1,417.3 826.6,425.2 826.1,427.7 825.6,428.9 825.1,428.4 824.6,428.4 824.1,430.0 823.6,428.9 823.1,430.2 822.6,431.8 822.1,431.3 821.6,433.1 821.1,433.3 820.6,432.7 820.1,432.4 819.6,432.6 819.1,435.0 818.6,435.3 818.1,434.3 817.6,434.3 817.1,435.6 816.6,434.8 816.1,434.7 815.6,435.3 815.1,438.1 814.6,435.3 814.1,435.6 813.6,437.8 813.1,435.8 812.6,437.2 812.1,437.8 811.6,438.9 811.1,438.7 810.6,439.3 810.1,437.7 809.6,438.5 809.1,439.4 808.6,439.5 808.1,438.4 807.6,438.6 807.1,440.0 806.6,438.3 806.1,438.2 805.6,440.6 805.1,439.0 804.6,440.7 804.1,438.8 803.6,439.0 803.1,440.4 802.6,355.5 802.1,356.1 801.6,356.8 801.1,356.5 800.6,357.3 800.1,357.5 799.6,357.8 799.1,357.9 798.6,359.1 798.1,358.9 797.6,358.9 797.1,359.3 796.6,359.7 796.1,361.0 795.6,360.4 795.1,361.3 794.6,361.3 794.1,361.4 793.6,362.6 793.1,363.1 792.6,363.7 792.1,362.9 791.6,363.4 791.1,363.6 790.6,364.2 790.1,364.3 789.6,364.8 789.1,367.1 788.6,368.3 788.1,370.6 787.6,373.2 787.1,375.8 786.6,350.0 786.1,350.0 785.6,350.0 785.1,350.0 784.6,350.0 784.1,350.0 783.6,350.0 783.1,350.0 782.6,350.0 782.1,350.0 781.6,350.0 781.1,350.0 780.6,350.0 780.1,350.0 779.6,350.0 779.1,350.0 778.6,350.0 778.1,350.0 777.6,350.0 777.1,350.0 776.6,350.0 776.1,350.0 775.6,350.0 775.1,350.0 774.6,350.0 774.1,350.0 773.6,350.0 773.1,350.0 772.6,350.0 772.1,350.0 771.6,350.0 771.1,350.0 770.6,350.0 770.1,350.0 769.6,350.0 769.1,350.0 768.6,350.0 768.1,350.0 767.6,350.0 767.1,350.0 766.6,350.0 766.1,350.0 765.6,350.0 765.1,350.0 764.6,350.0 764.1,350.0 763.6,350.0 763.1,350.0 762.6,350.0 762.1,350.0 761.6,350.0 761.1,350.0 760.6,350.0 760.1,350.0 759.6,350.0 759.1,350.0 758.6,350.0 758.1,350.0 757.6,350.0 757.1,350.0 756.6,350.0 756.1,356.6 755.6,357.2 755.1,358.4 754.6,358.4 754.1,359.6 753.6,360.8 753.1,361.0 752.6,361.7 752.1,362.0 751.6,362.6 751.1,363.3 750.6,364.7 750.1,364.8 749.6,367.6 749.1,370.8 748.6,371.3 748.1,363.7 747.6,365.9 747.1,367.3 746.6,368.2 746.1,370.4 745.6,372.5 745.1,372.4 744.6,374.4 744.1,375.0 743.6,377.3 743.1,380.4 742.6,380.4 742.1,382.1 741.6,385.0 741.1,384.7 740.6,386.4 740.1,387.4 739.6,390.7 739.1,393.3 738.6,392.3 738.1,394.2 737.6,396.1 737.1,398.6 736.6,400.0 736.1,402.5 735.6,403.2 735.1,401.8 734.6,402.3 734.1,405.0 733.6,405.0 733.1,350.0 732.6,350.0 732.1,350.0 731.6,350.0 731.1,350.0 730.6,350.0 730.1,350.0 729.6,350.0 729.1,350.0 728.6,350.0 728.1,350.0 727.6,350.0 727.1,350.0 726.6,350.0 726.1,350.0 725.6,350.0 725.1,350.0 724.6,350.0 724.1,350.0 723.6,350.0 723.1,350.0 722.6,350.0 722.1,350.0 721.6,350.0 721.1,350.0 720.6,350.0 720.1,350.0 719.6,350.0 719.1,350.0 718.6,350.0 718.1,350.0 717.6,350.0 717.1,350.0 716.6,350.0 716.1,350.0 715.6,350.0 715.1,350.0 714.6,350.0 714.1,350.0 713.6,350.0 713.1,350.0 712.6,350.0 712.1,350.0 711.6,350.0 711.1,350.0 710.6,350.0 710.1,350.0 709.6,355.5 709.1,355.5 708.6,355.7 708.1,356.0 707.6,356.8 707.1,356.6 706.6,357.0 706.1,357.3 705.6,357.5 705.1,358.0 704.6,358.7 704.1,358.7 703.6,359.4 703.1,359.0 702.6,360.0 702.1,360.1 701.6,360.6 701.1,360.8 700.6,361.5 700.1,360.8 699.6,361.1 699.1,362.3 698.6,362.5 698.1,362.0 697.6,362.7 697.1,362.7 696.6,363.8 696.1,363.5 695.6,364.5 695.1,364.7 694.6,365.5 694.1,364.4 693.6,365.4 693.1,365.8 692.6,369.4 692.1,372.3 691.6,374.5 691.1,377.2 690.6,350.0 690.1,350.0 689.6,350.0 689.1,350.0 688.6,350.0 688.1,350.0 687.6,350.0 687.1,350.0 686.6,350.0 686.1,350.0 685.6,350.0 685.1,350.0 684.6,350.0 684.1,350.0 683.6,350.0 683.1,350.0 682.6,350.0 682.1,350.0 681.6,350.0 681.1,350.0 680.6,350.0 680.1,350.0 679.6,350.0 679.1,350.0 678.6,350.0 678.1,350.0 677.6,350.0 677.1,350.0 676.6,350.0 676.1,350.0 675.6,350.0 675.1,350.0 674.6,350.0 674.1,350.0 673.6,350.0 673.1,350.0 672.6,350.0 672.1,350.0 671.6,350.0 671.1,350.0 670.6,350.0 670.1,350.0 669.6,350.0 669.1,350.0 668.6,350.0 668.1,350.0 667.6,350.0 667.1,350.0 666.6,350.0 666.1,350.0 665.6,350.0 665.1,350.0 664.6,350.0 664.1,350.0 663.6,350.0 663.1,350.0 662.6,357.8 662.1,357.4 661.6,357.9 661.1,358.3 660.6,357.6 660.1,357.7 659.6,357.9 659.1,358.5 658.6,358.1 658.1,358.4 657.6,358.3 657.1,358.7 656.6,358.7 656.1,359.2 655.6,358.9 655.1,359.4 654.6,359.1 654.1,359.9 653.6,359.4 653.1,359.5 652.6,359.7 652.1,360.0 651.6,360.0 651.1,360.7 650.6,360.7 650.1,361.0 649.6,361.5 649.1,361.5 648.6,361.6 648.1,360.8 647.6,361.1 647.1,361.2 646.6,361.6 646.1,361.6 645.6,361.8 645.1,361.6 644.6,361.7 644.1,362.2 643.6,363.0 643.1,363.4 642.6,362.3 642.1,362.6 641.6,363.0 641.1,382.4 640.6,402.5 640.1,422.9 639.6,427.0 639.1,425.9 638.6,426.7 638.1,429.5 637.6,429.8 637.1,429.1 636.6,429.0 636.1,432.3 635.6,433.0 635.1,430.5 634.6,431.1 634.1,433.9 633.6,431.8 633.1,433.1 632.6,434.9 632.1,433.0 631.6,434.1 631.1,434.1 630.6,435.0 630.1,437.5 629.6,434.6 629.1,434.8 628.6,435.5 628.1,435.8 627.6,436.2 627.1,436.8 626.6,435.7 626.1,438.9 625.6,436.1 625.1,436.6 624.6,436.5 624.1,436.9 623.6,437.0 623.1,439.2 622.6,438.6 622.1,437.2 621.6,439.9 621.1,438.8 620.6,440.4 620.1,437.7 619.6,437.9 619.1,438.0 618.6,438.2 618.1,439.6 617.6,439.1 617.1,439.4 616.6,438.6 616.1,438.7 615.6,360.4 615.1,361.0 614.6,362.1 614.1,362.7 613.6,362.4 613.1,363.0 612.6,363.5 612.1,363.1 611.6,363.6 611.1,363.9 610.6,364.6 610.1,364.5 609.6,365.0 609.1,365.6 608.6,365.8 608.1,365.9 607.6,366.4 607.1,367.9 606.6,367.2 606.1,367.7 605.6,368.4 605.1,368.2 604.6,368.6 604.1,370.9 603.6,369.8 603.1,369.6 602.6,371.4 602.1,371.1 601.6,371.8 601.1,371.6 600.6,372.5 600.1,372.5 599.6,374.1 599.1,378.6 598.6,350.0 598.1,350.0 597.6,350.0 597.1,350.0 596.6,350.0 596.1,350.0 595.6,350.0 595.1,350.0 594.6,350.0 594.1,350.0 593.6,350.0 593.1,350.0 592.6,350.0 592.1,350.0 591.6,350.0 591.1,350.0 590.6,350.0 590.1,350.0 589.6,350.0 589.1,350.0 588.6,350.0 588.1,350.0 587.6,350.0 587.1,350.0 586.6,350.0 586.1,350.0 585.6,350.0 585.1,350.0 584.6,350.0 584.1,350.0 583.6,350.0 583.1,350.0 582.6,350.0 582.1,350.0 581.6,350.0 581.1,350.0 580.6,350.0 580.1,350.0 579.6,350.0 579.1,350.0 578.6,350.0 578.1,350.0 577.6,350.0 577.1,350.0 576.6,350.0 576.1,350.0 575.6,350.0 575.1,350.0 574.6,350.0 574.1,350.0 573.6,350.0 573.1,350.0 572.6,350.0 572.1,350.0 571.6,350.0 571.1,350.0 570.6,350.0 570.1,350.0 569.6,356.2 569.1,375.1 568.6,375.2 568.1,375.1 567.6,377.5 567.1,378.6 566.6,378.0 566.1,380.5 565.6,379.2 565.1,380.1 564.6,381.2 564.1,382.6 563.6,382.3 563.1,382.6 562.6,383.1 562.1,386.1 561.6,387.9 561.1,388.0 560.6,390.6 560.1,391.5 559.6,394.1 559.1,394.6 558.6,396.4 558.1,398.0 557.6,401.2 557.1,402.5 556.6,406.3 556.1,405.9 555.6,408.1 555.1,410.1 554.6,411.8 554.1,414.3 553.6,414.7 553.1,416.6 552.6,417.9 552.1,419.6 551.6,420.7 551.1,424.2 550.6,424.4 550.1,428.8 549.6,427.6 549.1,430.4 548.6,430.7 548.1,430.7 547.6,430.8 547.1,433.1 546.6,431.1 546.1,433.8 545.6,432.8 545.1,433.8 544.6,432.0 544.1,432.9 543.6,433.1 543.1,432.5 542.6,433.4 542.1,434.5 541.6,435.7 541.1,434.4 540.6,434.4 540.1,434.0 539.6,435.0 539.1,434.5 538.6,434.7 538.1,435.7 537.6,437.8 537.1,435.7 536.6,436.8 536.1,438.2 535.6,436.4 535.1,435.9 534.6,435.8 534.1,438.0 533.6,436.3 533.1,436.8 532.6,438.2 532.1,440.1 531.6,437.7 531.1,438.2 530.6,438.9 530.1,441.9 529.6,439.5 529.1,441.2 528.6,442.9 528.1,441.1 527.6,441.8 527.1,440.7 526.6,442.0 526.1,442.2 525.6,441.7 525.1,442.0 524.6,443.9 524.1,445.5 523.6,443.2 523.1,443.8 522.6,443.4 522.1,400.3 521.6,400.0 521.1,399.1 520.6,399.3 520.1,401.0 519.6,401.7 519.1,398.6 518.6,398.7 518.1,398.5 517.6,400.5 517.1,398.5 516.6,401.0 516.1,401.2 515.6,398.6 515.1,399.3 514.6,401.6 514.1,403.2 513.6,404.3 513.1,401.9 512.6,405.8 512.1,403.4 511.6,405.9 511.1,407.3 510.6,408.1 510.1,407.0 509.6,408.7 509.1,410.5 508.6,409.1 508.1,411.8 507.6,410.6 507.1,414.5 506.6,414.9 506.1,418.7 505.6,418.6 505.1,419.2 504.6,421.4 504.1,422.7 503.6,425.5 503.1,428.1 502.6,427.5 502.1,429.9 501.6,430.0 501.1,431.5 500.6,433.5 500.1,432.6 499.6,433.4 499.1,435.0 498.6,439.3 498.1,444.2 497.6,452.0 497.1,454.5 496.6,350.0 496.1,350.0 495.6,350.0 495.1,350.0 494.6,350.0 494.1,350.0 493.6,350.0 493.1,350.0 492.6,350.0 492.1,350.0 491.6,350.0 491.1,350.0 490.6,350.0 490.1,350.0 489.6,350.0 489.1,350.0 488.6,350.0 488.1,350.0 487.6,350.0 487.1,350.0 486.6,350.0 486.1,350.0 485.6,350.0 485.1,350.0 484.6,350.0 484.1,350.0 483.6,350.0 483.1,350.0 482.6,350.0 482.1,350.0 481.6,350.0 481.1,350.0 480.6,350.0 480.1,350.0 479.6,350.0 479.1,350.0 478.6,350.0 478.1,350.0 477.6,350.0 477.1,350.0 476.6,350.0 476.1,356.3 475.6,357.1 475.1,357.4 474.6,357.4 474.1,357.5 473.6,357.7 473.1,357.9 472.6,358.3 472.1,358.0 471.6,359.0 471.1,358.3 470.6,359.3 470.1,358.6 469.6,359.2 469.1,358.8 468.6,359.0 468.1,359.5 467.6,359.5 467.1,359.5 466.6,359.4 466.1,359.6 465.6,359.7 465.1,360.4 464.6,359.9 464.1,360.4 463.6,360.2 463.1,360.4 462.6,360.8 462.1,361.1 461.6,360.9 461.1,361.0 460.6,361.2 460.1,361.8 459.6,361.3 459.1,361.9 458.6,361.9 458.1,361.6 457.6,362.8 457.1,361.9 456.6,363.3 456.1,362.2 455.6,363.3 455.1,362.5 454.6,365.5 454.1,386.2 453.6,406.6 453.1,424.6 452.6,426.0 452.1,428.5 451.6,428.8 451.1,430.7 450.6,428.2 450.1,429.7 449.6,429.5 449.1,430.6 448.6,430.4 448.1,430.6 447.6,431.3 447.1,432.1 446.6,434.3 446.1,432.3 445.6,432.8 445.1,433.5 444.6,436.6 444.1,434.2 443.6,434.7 443.1,434.8 442.6,435.4 442.1,436.6 441.6,436.4 441.1,437.6 440.6,435.6 440.1,436.8 439.6,437.6 439.1,437.8 438.6,436.1 438.1,439.2 437.6,437.5 437.1,437.5 436.6,437.1 436.1,437.0 435.6,440.2 435.1,437.2 434.6,438.4 434.1,437.8 433.6,438.6 433.1,438.1 432.6,437.8 432.1,440.5 431.6,438.4 431.1,439.4 430.6,438.8 430.1,438.5 429.6,439.0 429.1,440.8 428.6,355.5 428.1,356.3 427.6,356.1 427.1,356.4 426.6,357.3 426.1,357.3 425.6,357.4 425.1,358.1 424.6,358.3 424.1,358.9 423.6,358.6 423.1,359.3 422.6,359.5 422.1,359.6 421.6,360.9 421.1,361.0 420.6,360.5 420.1,360.8 419.6,362.3 419.1,361.6 418.6,362.7 418.1,362.9 417.6,363.2 417.1,363.8 416.6,363.5 416.1,363.9 415.6,363.9 415.1,364.1 414.6,364.9 414.1,364.8 413.6,365.1 413.1,367.7 412.6,371.0 412.1,372.9 411.6,377.3 411.1,350.0 410.6,350.0 410.1,350.0 409.6,350.0 409.1,350.0 408.6,350.0 408.1,350.0 407.6,350.0 407.1,350.0 406.6,350.0 406.1,350.0 405.6,350.0 405.1,350.0 404.6,350.0 404.1,350.0 403.6,350.0 403.1,350.0 402.6,350.0 402.1,350.0 401.6,350.0 401.1,350.0 400.6,350.0 400.1,350.0 399.6,350.0 399.1,350.0 398.6,350.0 398.1,350.0 397.6,350.0 397.1,350.0 396.6,350.0 396.1,350.0 395.6,350.0 395.1,350.0 394.6,350.0 394.1,350.0 393.6,350.0 393.1,350.0 392.6,350.0 392.1,350.0 391.6,350.0 391.1,350.0 390.6,350.0 390.1,350.0 389.6,350.0 389.1,350.0 388.6,350.0 388.1,350.0 387.6,350.0 387.1,350.0 386.6,350.0 386.1,350.0 385.6,350.0 385.1,350.0 384.6,350.0 384.1,350.0 383.6,350.0 383.1,350.0 382.6,356.4 382.1,356.7 381.6,357.8 381.1,358.8 380.6,358.7 380.1,359.4 379.6,360.4 379.1,361.2 378.6,361.9 378.1,362.2 377.6,362.8 377.1,364.6 376.6,364.6 376.1,365.9 375.6,368.3 375.1,370.8 374.6,373.2 374.1,365.0 373.6,366.0 373.1,367.0 372.6,369.8 372.1,369.8 371.6,371.6 371.1,373.3 370.6,374.9 370.1,375.3 369.6,377.9 369.1,381.3 368.6,382.5 368.1,382.1 367.6,383.0 367.1,385.0 366.6,386.8 366.1,387.8 365.6,391.6 365.1,391.9 364.6,393.7 364.1,396.4 363.6,397.4 363.1,401.0 362.6,399.6 362.1,400.4 361.6,401.0 361.1,404.7 360.6,402.5 360.1,403.2 359.6,404.2 359.1,350.0 358.6,350.0 358.1,350.0 357.6,350.0 357.1,350.0 356.6,350.0 356.1,350.0 355.6,350.0 355.1,350.0 354.6,350.0 354.1,350.0 353.6,350.0 353.1,350.0 352.6,350.0 352.1,350.0 351.6,350.0 351.1,350.0 350.6,350.0 350.1,350.0 349.6,350.0 349.1,350.0 348.6,350.0 348.1,350.0 347.6,350.0 347.1,350.0 346.6,350.0 346.1,350.0 345.6,350.0 345.1,350.0 344.6,350.0 344.1,350.0 343.6,350.0 343.1,350.0 342.6,350.0 342.1,350.0 341.6,350.0 341.1,350.0 340.6,350.0 340.1,350.0 339.6,350.0 339.1,350.0 338.6,350.0 338.1,350.0 337.6,350.0 337.1,350.0 336.6,350.0 336.1,350.0 335.6,355.3 335.1,356.1 334.6,356.2 334.1,356.4 333.6,356.4 333.1,357.3 332.6,357.3 332.1,357.4 331.6,357.7 331.1,358.5 330.6,358.8 330.1,359.4 329.6,359.3 329.1,359.2 328.6,360.1 328.1,359.8 327.6,360.1 327.1,361.4 326.6,361.2 326.1,361.0 325.6,361.3 325.1,361.9 324.6,362.3 324.1,362.9 323.6,363.3 323.1,362.8 322.6,363.2 322.1,363.8 321.6,363.7 321.1,364.8 320.6,364.5 320.1,364.7 319.6,365.6 319.1,369.4 318.6,371.1 318.1,374.3 317.6,377.3 317.1,350.0 316.6,350.0 316.1,350.0 315.6,350.0 315.1,350.0 314.6,350.0 314.1,350.0 313.6,350.0 313.1,350.0 312.6,350.0 312.1,350.0 311.6,350.0 311.1,350.0 310.6,350.0 310.1,350.0 309.6,350.0 309.1,350.0 308.6,350.0 308.1,350.0 307.6,350.0 307.1,350.0 306.6,350.0 306.1,350.0 305.6,350.0 305.1,350.0 304.6,350.0 304.1,350.0 303.6,350.0 303.1,350.0 302.6,350.0 302.1,350.0 301.6,350.0 301.1,350.0 300.6,350.0 300.1,350.0 299.6,350.0 299.1,350.0 298.6,350.0 298.1,350.0 297.6,350.0 297.1,350.0 296.6,350.0 296.1,350.0 295.6,350.0 295.1,350.0 294.6,350.0 294.1,350.0 293.6,350.0 293.1,350.0 292.6,350.0 292.1,350.0 291.6,350.0 291.1,350.0 290.6,350.0 290.1,350.0 289.6,350.0 289.1,357.6 288.6,357.4 288.1,357.9 287.6,357.5 287.1,357.7 286.6,357.7 286.1,358.2 285.6,357.9 285.1,358.1 284.6,358.3 284.1,358.3 283.6,358.8 283.1,358.8 282.6,359.3 282.1,358.8 281.6,358.9 281.1,359.3 280.6,359.7 280.1,359.5 279.6,360.2 279.1,360.1 278.6,359.9 278.1,359.8 277.6,360.8 277.1,360.3 276.6,360.2 276.1,361.4 275.6,361.3 275.1,360.7 274.6,361.2 274.1,360.9 273.6,361.8 273.1,361.1 272.6,361.9 272.1,361.5 271.6,362.0 271.1,361.7 270.6,361.9 270.1,362.1 269.6,362.1 269.1,362.2 268.6,363.0 268.1,363.6 267.6,370.4 267.1,391.3 266.6,411.7 266.1,426.0 265.6,425.8 265.1,427.7 264.6,427.3 264.1,430.1 263.6,430.2 263.1,429.2 262.6,430.9 262.1,429.9 261.6,430.2 261.1,431.5 260.6,432.1 260.1,432.9 259.6,434.2 259.1,432.4 258.6,433.0 258.1,434.5 257.6,435.4 257.1,434.9 256.6,434.3 256.1,434.6 255.6,434.8 255.1,435.9 254.6,435.2 254.1,435.3 253.6,435.6 253.1,438.5 252.6,438.7 252.1,437.6 251.6,436.2 251.1,438.6 250.6,436.6 250.1,436.9 249.6,438.4 249.1,437.3 248.6,437.1 248.1,437.5 247.6,437.5 247.1,439.7 246.6,437.6 246.1,438.2 245.6,437.9 245.1,438.2 244.6,438.2 244.1,438.3 243.6,440.3 243.1,440.9 242.6,438.7 242.1,439.2 241.6,361.7 241.1,362.1 240.6,361.4 240.1,362.8 239.6,363.1 239.1,362.4 238.6,363.3 238.1,364.5 237.6,364.7 237.1,364.1 236.6,364.4 236.1,366.0 235.6,365.1 235.1,365.6 234.6,365.9 234.1,366.1 233.6,367.7 233.1,368.1 232.6,367.2 232.1,367.6 231.6,368.0 231.1,368.6 230.6,370.7 230.1,369.9 229.6,370.0 229.1,369.8 228.6,370.9 228.1,370.7 227.6,372.0 227.1,372.7 226.6,371.6 226.1,375.2 225.6,376.3 225.1,350.0 224.6,350.0 224.1,350.0 223.6,350.0 223.1,350.0 222.6,350.0 222.1,350.0 221.6,350.0 221.1,350.0 220.6,350.0 220.1,350.0 219.6,350.0 219.1,350.0 218.6,350.0 218.1,350.0 217.6,350.0 217.1,350.0 216.6,350.0 216.1,350.0 215.6,350.0 215.1,350.0 214.6,350.0 214.1,350.0 213.6,350.0 213.1,350.0 212.6,350.0 212.1,350.0 211.6,350.0 211.1,350.0 210.6,350.0 210.1,350.0 209.6,350.0 209.1,350.0 208.6,350.0 208.1,350.0 207.6,350.0 207.1,350.0 206.6,350.0 206.1,350.0 205.6,350.0 205.1,350.0 204.6,350.0 204.1,350.0 203.6,350.0 203.1,350.0 202.6,350.0 202.1,350.0 201.6,350.0 201.1,350.0 200.6,350.0 200.1,350.0 199.6,350.0 199.1,350.0 198.6,350.0 198.1,350.0 197.6,350.0 197.1,350.0 196.6,350.0 196.1,350.0 195.6,373.2 195.1,374.6 194.6,374.9 194.1,376.0 193.6,379.1 193.1,378.4 192.6,377.7 192.1,380.5 191.6,379.4 191.1,381.9 190.6,380.8 190.1,382.4 189.6,382.6 189.1,385.0 188.6,384.8 188.1,385.9 187.6,387.9 187.1,391.5 186.6,391.4 186.1,392.4 185.6,394.3 185.1,398.3 184.6,398.9 184.1,399.7 183.6,400.9 183.1,405.5 182.6,405.0 182.1,409.1 181.6,409.2 181.1,410.8 180.6,413.5 180.1,414.2 179.6,416.1 179.1,419.2 178.6,418.7 178.1,420.9 177.6,421.6 177.1,423.5 176.6,425.1 176.1,429.0 175.6,429.0 175.1,433.2 174.6,431.5 174.1,430.6 173.6,430.9 173.1,432.6 172.6,431.9 172.1,433.1 171.6,432.4 171.1,434.1 170.6,433.4 170.1,432.5 169.6,434.1 169.1,432.7 168.6,434.5 168.1,433.4 167.6,433.8 167.1,433.3 166.6,435.4 166.1,436.8 165.6,434.7 165.1,434.3 164.6,434.7 164.1,435.6 163.6,435.6 163.1,435.1 162.6,435.8 162.1,436.3 161.6,437.1 161.1,437.1 160.6,437.1 160.1,437.1 159.6,436.6 159.1,437.3 158.6,437.2 158.1,437.6 157.6,438.6 157.1,439.1 156.6,439.8 156.1,440.4 155.6,439.6 155.1,440.3 154.6,440.2 154.1,443.0 153.6,440.8 153.1,441.1 152.6,441.2 152.1,444.0 151.6,443.1 151.1,444.0 150.6,442.4 150.1,443.4 149.6,442.9 149.1,443.6 148.6,444.0 148.1,401.4 147.6,399.5 147.1,401.0 146.6,401.5 146.1,401.9 145.6,399.3 145.1,399.3 144.6,401.9 144.1,400.0 143.6,399.7 143.1,402.1 142.6,399.4 142.1,400.4 141.6,401.8 141.1,399.6 140.6,399.9 140.1,401.4 139.6,401.4 139.1,403.7 138.6,402.9 138.1,404.5 137.6,405.5 137.1,405.2 136.6,405.8 136.1,408.6 135.6,407.2 135.1,408.1 134.6,408.6 134.1,410.2 133.6,410.8 133.1,413.8 132.6,415.1 132.1,416.9 131.6,419.7 131.1,420.9 130.6,422.1 130.1,424.1 129.6,425.8 129.1,425.4 128.6,428.3 128.1,427.1 127.6,428.3 127.1,428.3 126.6,431.5 126.1,430.2 125.6,430.9 125.1,432.9 124.6,433.9 124.1,436.4 123.6,438.4 123.1,438.5 122.6,440.6 122.1,441.3 121.6,444.1 121.1,450.0 120.6,452.3"/>
<g stroke="#b4b5c0" stroke-opacity="0.17" stroke-width="1">
<line x1="173.4" y1="246.0" x2="173.4" y2="268.0"/><line x1="173.4" y1="431.0" x2="173.4" y2="449.0"/>
<line x1="547.1" y1="246.0" x2="547.1" y2="268.0"/><line x1="547.1" y1="431.0" x2="547.1" y2="449.0"/>
</g>
<g fill="#cdced7" fill-opacity="0.17">
<polygon points="194.3,350.0 195.4,292.0 195.7,244.6 196.7,244.6 196.9,292.0 198.0,350.0 196.9,408.0 196.7,455.4 195.7,455.4 195.4,408.0"/>
<polygon points="197.1,350.0 198.3,291.9 198.5,244.3 199.5,244.3 199.8,291.9 201.0,350.0 199.8,408.1 199.5,455.7 198.5,455.7 198.3,408.1"/>
<polygon points="200.0,350.0 201.2,291.9 201.5,244.3 202.5,244.3 202.7,291.9 204.0,350.0 202.7,408.1 202.5,455.7 201.5,455.7 201.2,408.1"/>
<polygon points="203.0,350.0 204.4,291.8 204.6,244.3 205.6,244.3 205.9,291.8 207.2,350.0 205.9,408.2 205.6,455.7 204.6,455.7 204.4,408.2"/>
<polygon points="206.2,350.0 207.6,292.5 207.9,245.5 208.9,245.5 209.1,292.5 210.5,350.0 209.1,407.5 208.9,454.5 207.9,454.5 207.6,407.5"/>
<polygon points="209.9,350.0 211.0,299.1 211.3,257.4 212.3,257.4 212.5,299.1 213.7,350.0 212.5,400.9 212.3,442.6 211.3,442.6 211.0,400.9"/>
<polygon points="213.6,350.0 214.6,305.2 214.8,268.5 215.8,268.5 216.1,305.2 217.0,350.0 216.1,394.8 215.8,431.5 214.8,431.5 214.6,394.8"/>
<polygon points="217.8,350.0 218.3,318.7 218.5,293.1 219.5,293.1 219.8,318.7 220.3,350.0 219.8,381.3 219.5,406.9 218.5,406.9 218.3,381.3"/>
<polygon points="221.9,350.0 222.2,328.0 222.4,310.0 223.4,310.0 223.7,328.0 223.9,350.0 223.7,372.0 223.4,390.0 222.4,390.0 222.2,372.0"/>
<polygon points="226.3,350.0 226.2,337.9 226.5,328.0 227.5,328.0 227.7,337.9 227.6,350.0 227.7,362.1 227.5,372.0 226.5,372.0 226.2,362.1"/>
<polygon points="230.5,350.0 230.4,339.2 230.7,330.4 231.7,330.4 231.9,339.2 231.8,350.0 231.9,360.8 231.7,369.6 230.7,369.6 230.4,360.8"/>
<polygon points="287.7,350.0 288.9,291.5 289.1,243.6 290.1,243.6 290.4,291.5 291.5,350.0 290.4,408.5 290.1,456.4 289.1,456.4 288.9,408.5"/>
<polygon points="290.5,350.0 291.7,292.6 292.0,245.6 293.0,245.6 293.2,292.6 294.4,350.0 293.2,407.4 293.0,454.4 292.0,454.4 291.7,407.4"/>
<polygon points="293.4,350.0 294.7,291.9 294.9,244.3 295.9,244.3 296.2,291.9 297.4,350.0 296.2,408.1 295.9,455.7 294.9,455.7 294.7,408.1"/>
<polygon points="296.5,350.0 297.8,291.9 298.1,244.4 299.1,244.4 299.3,291.9 300.6,350.0 299.3,408.1 299.1,455.6 298.1,455.6 297.8,408.1"/>
<polygon points="299.7,350.0 301.1,292.5 301.3,245.4 302.3,245.4 302.6,292.5 303.9,350.0 302.6,407.5 302.3,454.6 301.3,454.6 301.1,407.5"/>
<polygon points="303.4,350.0 304.5,302.6 304.7,263.8 305.7,263.8 306.0,302.6 307.0,350.0 306.0,397.4 305.7,436.2 304.7,436.2 304.5,397.4"/>
<polygon points="307.2,350.0 308.0,308.5 308.3,274.5 309.3,274.5 309.5,308.5 310.3,350.0 309.5,391.5 309.3,425.5 308.3,425.5 308.0,391.5"/>
<polygon points="311.3,350.0 311.7,320.5 312.0,296.4 313.0,296.4 313.2,320.5 313.6,350.0 313.2,379.5 313.0,403.6 312.0,403.6 311.7,379.5"/>
<polygon points="315.5,350.0 315.6,332.8 315.8,318.7 316.8,318.7 317.1,332.8 317.2,350.0 317.1,367.2 316.8,381.3 315.8,381.3 315.6,367.2"/>
<polygon points="319.8,350.0 319.6,341.8 319.9,335.1 320.9,335.1 321.1,341.8 321.0,350.0 321.1,358.2 320.9,364.9 319.9,364.9 319.6,358.2"/>
<polygon points="334.4,350.0 335.6,290.9 335.8,242.6 336.8,242.6 337.1,290.9 338.2,350.0 337.1,409.1 336.8,457.4 335.8,457.4 335.6,409.1"/>
<polygon points="337.3,350.0 338.4,292.6 338.7,245.6 339.7,245.6 339.9,292.6 341.1,350.0 339.9,407.4 339.7,454.4 338.7,454.4 338.4,407.4"/>
<polygon points="340.2,350.0 341.4,292.3 341.7,245.2 342.7,245.2 342.9,292.3 344.1,350.0 342.9,407.7 342.7,454.8 341.7,454.8 341.4,407.7"/>
<polygon points="343.2,350.0 344.5,291.6 344.8,243.9 345.8,243.9 346.0,291.6 347.4,350.0 346.0,408.4 345.8,456.1 344.8,456.1 344.5,408.4"/>
<polygon points="346.4,350.0 347.8,291.7 348.0,243.9 349.0,243.9 349.3,291.7 350.7,350.0 349.3,408.3 349.0,456.1 348.0,456.1 347.8,408.3"/>
<polygon points="349.7,350.0 351.2,292.2 351.4,244.8 352.4,244.8 352.7,292.2 354.1,350.0 352.7,407.8 352.4,455.2 351.4,455.2 351.2,407.8"/>
<polygon points="353.2,350.0 354.7,293.1 355.0,246.5 356.0,246.5 356.2,293.1 357.7,350.0 356.2,406.9 356.0,453.5 355.0,453.5 354.7,406.9"/>
<polygon points="357.3,350.0 358.4,302.0 358.7,262.8 359.7,262.8 359.9,302.0 361.1,350.0 359.9,398.0 359.7,437.2 358.7,437.2 358.4,398.0"/>
<polygon points="361.3,350.0 362.3,306.6 362.6,271.1 363.6,271.1 363.8,306.6 364.8,350.0 363.8,393.4 363.6,428.9 362.6,428.9 362.3,393.4"/>
<polygon points="365.7,350.0 366.4,315.6 366.6,287.4 367.6,287.4 367.9,315.6 368.5,350.0 367.9,384.4 367.6,412.6 366.6,412.6 366.4,384.4"/>
<polygon points="370.4,350.0 370.6,328.3 370.8,310.6 371.8,310.6 372.1,328.3 372.3,350.0 372.1,371.7 371.8,389.4 370.8,389.4 370.6,371.7"/>
<polygon points="374.9,350.0 374.8,340.0 375.0,331.8 376.0,331.8 376.3,340.0 376.2,350.0 376.3,360.0 376.0,368.2 375.0,368.2 374.8,360.0"/>
<polygon points="381.2,350.0 382.3,292.9 382.5,246.1 383.5,246.1 383.8,292.9 384.9,350.0 383.8,407.1 383.5,453.9 382.5,453.9 382.3,407.1"/>
<polygon points="384.0,350.0 385.1,292.6 385.4,245.6 386.4,245.6 386.6,292.6 387.8,350.0 386.6,407.4 386.4,454.4 385.4,454.4 385.1,407.4"/>
<polygon points="386.8,350.0 388.1,291.3 388.4,243.2 389.4,243.2 389.6,291.3 390.9,350.0 389.6,408.7 389.4,456.8 388.4,456.8 388.1,408.7"/>
<polygon points="390.0,350.0 391.2,292.9 391.5,246.1 392.5,246.1 392.7,292.9 394.0,350.0 392.7,407.1 392.5,453.9 391.5,453.9 391.2,407.1"/>
<polygon points="393.1,350.0 394.5,292.1 394.7,244.7 395.7,244.7 396.0,292.1 397.4,350.0 396.0,407.9 395.7,455.3 394.7,455.3 394.5,407.9"/>
<polygon points="396.6,350.0 397.9,296.4 398.1,252.5 399.1,252.5 399.4,296.4 400.7,350.0 399.4,403.6 399.1,447.5 398.1,447.5 397.9,403.6"/>
<polygon points="400.6,350.0 401.4,308.3 401.7,274.3 402.7,274.3 402.9,308.3 403.8,350.0 402.9,391.7 402.7,425.7 401.7,425.7 401.4,391.7"/>
<polygon points="404.6,350.0 405.2,317.9 405.4,291.7 406.4,291.7 406.7,317.9 407.2,350.0 406.7,382.1 406.4,408.3 405.4,408.3 405.2,382.1"/>
<polygon points="408.9,350.0 409.0,331.0 409.3,315.4 410.3,315.4 410.5,331.0 410.7,350.0 410.5,369.0 410.3,384.6 409.3,384.6 409.0,369.0"/>
<polygon points="413.2,350.0 413.1,341.7 413.3,334.9 414.3,334.9 414.6,341.7 414.4,350.0 414.6,358.3 414.3,365.1 413.3,365.1 413.1,358.3"/>
<polygon points="474.6,350.0 475.7,292.9 476.0,246.2 477.0,246.2 477.2,292.9 478.3,350.0 477.2,407.1 477.0,453.8 476.0,453.8 475.7,407.1"/>
<polygon points="477.4,350.0 478.6,291.5 478.8,243.6 479.8,243.6 480.1,291.5 481.3,350.0 480.1,408.5 479.8,456.4 478.8,456.4 478.6,408.5"/>
<polygon points="480.4,350.0 481.6,292.9 481.8,246.2 482.8,246.2 483.1,292.9 484.3,350.0 483.1,407.1 482.8,453.8 481.8,453.8 481.6,407.1"/>
<polygon points="483.3,350.0 484.7,291.2 484.9,243.1 485.9,243.1 486.2,291.2 487.5,350.0 486.2,408.8 485.9,456.9 484.9,456.9 484.7,408.8"/>
<polygon points="486.5,350.0 487.9,291.8 488.2,244.2 489.2,244.2 489.4,291.8 490.8,350.0 489.4,408.2 489.2,455.8 488.2,455.8 487.9,408.2"/>
<polygon points="489.9,350.0 491.3,293.0 491.6,246.3 492.6,246.3 492.8,293.0 494.3,350.0 492.8,407.0 492.6,453.7 491.6,453.7 491.3,407.0"/>
<polygon points="493.3,350.0 494.9,291.8 495.1,244.2 496.1,244.2 496.4,291.8 497.9,350.0 496.4,408.2 496.1,455.8 495.1,455.8 494.9,408.2"/>
<polygon points="568.1,350.0 569.2,292.6 569.4,245.7 570.4,245.7 570.7,292.6 571.8,350.0 570.7,407.4 570.4,454.3 569.4,454.3 569.2,407.4"/>
<polygon points="570.8,350.0 572.0,292.0 572.3,244.6 573.3,244.6 573.5,292.0 574.7,350.0 573.5,408.0 573.3,455.4 572.3,455.4 572.0,408.0"/>
<polygon points="573.8,350.0 575.0,293.0 575.3,246.3 576.3,246.3 576.5,293.0 577.7,350.0 576.5,407.0 576.3,453.7 575.3,453.7 575.0,407.0"/>
<polygon points="576.8,350.0 578.1,291.7 578.4,244.0 579.4,244.0 579.6,291.7 581.0,350.0 579.6,408.3 579.4,456.0 578.4,456.0 578.1,408.3"/>
<polygon points="580.0,350.0 581.4,291.6 581.6,243.8 582.6,243.8 582.9,291.6 584.3,350.0 582.9,408.4 582.6,456.2 581.6,456.2 581.4,408.4"/>
<polygon points="583.4,350.0 584.8,293.5 585.0,247.3 586.0,247.3 586.3,293.5 587.7,350.0 586.3,406.5 586.0,452.7 585.0,452.7 584.8,406.5"/>
<polygon points="587.5,350.0 588.3,309.0 588.6,275.4 589.6,275.4 589.8,309.0 590.6,350.0 589.8,391.0 589.6,424.6 588.6,424.6 588.3,391.0"/>
<polygon points="591.4,350.0 592.0,315.5 592.3,287.2 593.3,287.2 593.5,315.5 594.1,350.0 593.5,384.5 593.3,412.8 592.3,412.8 592.0,384.5"/>
<polygon points="595.7,350.0 595.9,327.8 596.2,309.6 597.2,309.6 597.4,327.8 597.6,350.0 597.4,372.2 597.2,390.4 596.2,390.4 595.9,372.2"/>
<polygon points="600.0,350.0 600.0,337.3 600.2,326.9 601.2,326.9 601.5,337.3 601.4,350.0 601.5,362.7 601.2,373.1 600.2,373.1 600.0,362.7"/>
<polygon points="604.3,350.0 604.2,339.4 604.4,330.8 605.4,330.8 605.7,339.4 605.6,350.0 605.7,360.6 605.4,369.2 604.4,369.2 604.2,360.6"/>
<polygon points="661.5,350.0 662.6,291.7 662.9,244.0 663.9,244.0 664.1,291.7 665.3,350.0 664.1,408.3 663.9,456.0 662.9,456.0 662.6,408.3"/>
<polygon points="664.3,350.0 665.5,291.9 665.7,244.3 666.7,244.3 667.0,291.9 668.2,350.0 667.0,408.1 666.7,455.7 665.7,455.7 665.5,408.1"/>
<polygon points="667.2,350.0 668.4,291.6 668.7,243.8 669.7,243.8 669.9,291.6 671.2,350.0 669.9,408.4 669.7,456.2 668.7,456.2 668.4,408.4"/>
<polygon points="670.3,350.0 671.6,293.2 671.8,246.7 672.8,246.7 673.1,293.2 674.3,350.0 673.1,406.8 672.8,453.3 671.8,453.3 671.6,406.8"/>
<polygon points="673.5,350.0 674.8,293.4 675.1,247.0 676.1,247.0 676.3,293.4 677.6,350.0 676.3,406.6 676.1,453.0 675.1,453.0 674.8,406.6"/>
<polygon points="677.1,350.0 678.2,300.7 678.5,260.4 679.5,260.4 679.7,300.7 680.8,350.0 679.7,399.3 679.5,439.6 678.5,439.6 678.2,399.3"/>
<polygon points="681.1,350.0 681.8,312.0 682.0,280.9 683.0,280.9 683.3,312.0 684.0,350.0 683.3,388.0 683.0,419.1 682.0,419.1 681.8,388.0"/>
<polygon points="685.1,350.0 685.5,321.8 685.7,298.7 686.7,298.7 687.0,321.8 687.4,350.0 687.0,378.2 686.7,401.3 685.7,401.3 685.5,378.2"/>
<polygon points="689.3,350.0 689.4,333.4 689.6,319.9 690.6,319.9 690.9,333.4 690.9,350.0 690.9,366.6 690.6,380.1 689.6,380.1 689.4,366.6"/>
<polygon points="693.5,350.0 693.4,341.3 693.7,334.2 694.7,334.2 694.9,341.3 694.8,350.0 694.9,358.7 694.7,365.8 693.7,365.8 693.4,358.7"/>
<polygon points="708.2,350.0 709.3,292.9 709.6,246.2 710.6,246.2 710.8,292.9 711.9,350.0 710.8,407.1 710.6,453.8 709.6,453.8 709.3,407.1"/>
<polygon points="711.0,350.0 712.2,291.3 712.4,243.4 713.4,243.4 713.7,291.3 714.9,350.0 713.7,408.7 713.4,456.6 712.4,456.6 712.2,408.7"/>
<polygon points="713.9,350.0 715.2,291.5 715.4,243.6 716.4,243.6 716.7,291.5 717.9,350.0 716.7,408.5 716.4,456.4 715.4,456.4 715.2,408.5"/>
<polygon points="717.0,350.0 718.3,292.3 718.5,245.1 719.5,245.1 719.8,292.3 721.1,350.0 719.8,407.7 719.5,454.9 718.5,454.9 718.3,407.7"/>
<polygon points="720.2,350.0 721.5,293.1 721.8,246.5 722.8,246.5 723.0,293.1 724.4,350.0 723.0,406.9 722.8,453.5 721.8,453.5 721.5,406.9"/>
<polygon points="723.5,350.0 724.9,292.1 725.2,244.8 726.2,244.8 726.4,292.1 727.9,350.0 726.4,407.9 726.2,455.2 725.2,455.2 724.9,407.9"/>
<polygon points="727.2,350.0 728.5,296.7 728.7,253.0 729.7,253.0 730.0,296.7 731.3,350.0 730.0,403.3 729.7,447.0 728.7,447.0 728.5,403.3"/>
<polygon points="730.9,350.0 732.2,299.6 732.4,258.4 733.4,258.4 733.7,299.6 735.0,350.0 733.7,400.4 733.4,441.6 732.4,441.6 732.2,400.4"/>
<polygon points="735.1,350.0 736.1,306.5 736.3,271.0 737.3,271.0 737.6,306.5 738.6,350.0 737.6,393.5 737.3,429.0 736.3,429.0 736.1,393.5"/>
<polygon points="739.4,350.0 740.1,315.6 740.4,287.4 741.4,287.4 741.6,315.6 742.3,350.0 741.6,384.4 741.4,412.6 740.4,412.6 740.1,384.4"/>
<polygon points="744.1,350.0 744.3,329.0 744.6,311.8 745.6,311.8 745.8,329.0 746.0,350.0 745.8,371.0 745.6,388.2 744.6,388.2 744.3,371.0"/>
<polygon points="748.6,350.0 748.5,339.6 748.8,331.0 749.8,331.0 750.0,339.6 749.9,350.0 750.0,360.4 749.8,369.0 748.8,369.0 748.5,360.4"/>
<polygon points="755.0,350.0 756.1,292.8 756.3,246.0 757.3,246.0 757.6,292.8 758.7,350.0 757.6,407.2 757.3,454.0 756.3,454.0 756.1,407.2"/>
<polygon points="757.7,350.0 758.9,291.6 759.2,243.8 760.2,243.8 760.4,291.6 761.6,350.0 760.4,408.4 760.2,456.2 759.2,456.2 758.9,408.4"/>
<polygon points="760.6,350.0 761.9,291.4 762.1,243.5 763.1,243.5 763.4,291.4 764.7,350.0 763.4,408.6 763.1,456.5 762.1,456.5 761.9,408.6"/>
<polygon points="763.7,350.0 765.0,291.5 765.3,243.7 766.3,243.7 766.5,291.5 767.8,350.0 766.5,408.5 766.3,456.3 765.3,456.3 765.0,408.5"/>
<polygon points="766.9,350.0 768.3,293.2 768.5,246.7 769.5,246.7 769.8,293.2 771.1,350.0 769.8,406.8 769.5,453.3 768.5,453.3 768.3,406.8"/>
<polygon points="770.3,350.0 771.7,294.9 771.9,249.7 772.9,249.7 773.2,294.9 774.5,350.0 773.2,405.1 772.9,450.3 771.9,450.3 771.7,405.1"/>
<polygon points="774.2,350.0 775.2,305.1 775.5,268.3 776.5,268.3 776.7,305.1 777.7,350.0 776.7,394.9 776.5,431.7 775.5,431.7 775.2,394.9"/>
<polygon points="778.2,350.0 778.9,313.3 779.2,283.2 780.2,283.2 780.4,313.3 781.1,350.0 780.4,386.7 780.2,416.8 779.2,416.8 778.9,386.7"/>
<polygon points="782.5,350.0 782.8,326.4 783.0,307.1 784.0,307.1 784.3,326.4 784.6,350.0 784.3,373.6 784.0,392.9 783.0,392.9 782.8,373.6"/>
<polygon points="786.9,350.0 786.8,336.6 787.1,325.6 788.1,325.6 788.3,336.6 788.3,350.0 788.3,363.4 788.1,374.4 787.1,374.4 786.8,363.4"/>
<polygon points="791.2,350.0 791.0,341.9 791.3,335.2 792.3,335.2 792.5,341.9 792.4,350.0 792.5,358.1 792.3,364.8 791.3,364.8 791.0,358.1"/>
<polygon points="848.4,350.0 849.5,291.4 849.7,243.4 850.7,243.4 851.0,291.4 852.1,350.0 851.0,408.6 850.7,456.6 849.7,456.6 849.5,408.6"/>
<polygon points="851.2,350.0 852.3,293.0 852.6,246.4 853.6,246.4 853.8,293.0 855.0,350.0 853.8,407.0 853.6,453.6 852.6,453.6 852.3,407.0"/>
<polygon points="854.1,350.0 855.3,293.0 855.6,246.3 856.6,246.3 856.8,293.0 858.0,350.0 856.8,407.0 856.6,453.7 855.6,453.7 855.3,407.0"/>
<polygon points="857.2,350.0 858.4,293.0 858.7,246.3 859.7,246.3 859.9,293.0 861.2,350.0 859.9,407.0 859.7,453.7 858.7,453.7 858.4,407.0"/>
<polygon points="860.3,350.0 861.7,291.8 861.9,244.3 862.9,244.3 863.2,291.8 864.6,350.0 863.2,408.2 862.9,455.7 861.9,455.7 861.7,408.2"/>
</g>
<path d="M102.43 336.20 L102.48 335.42 L102.64 334.70 L102.90 334.08 L103.23 333.60 L103.62 333.30 L104.03 333.20 L105.06 333.53 L106.08 334.15 L107.11 335.22 L108.13 336.64 L109.16 338.17 L110.18 339.92 L111.21 341.73 L112.23 343.51 L113.26 345.31 L114.28 347.14 L115.31 348.98 L116.34 350.83 L117.36 352.67 L118.39 354.50 L119.41 356.31 L120.44 358.13 L121.46 359.94 L122.49 361.75 L123.51 363.57 L124.54 365.38 L125.56 367.20 L126.59 369.02 L127.62 370.86 L128.64 372.71 L129.67 374.55 L130.69 376.39 L131.72 378.20 L132.74 379.99 L133.77 381.75 L134.79 383.50 L135.82 385.24 L136.84 386.96 L137.87 388.65 L138.90 390.31 L139.92 391.93 L140.95 393.51 L141.97 395.08 L143.00 396.61 L144.02 398.05 L145.05 399.33 L146.07 400.49 L147.10 401.56 L148.12 402.54 L149.15 403.40 L149.15 403.40 L149.15 339.00 L149.20 338.22 L149.36 337.50 L149.62 336.88 L149.95 336.40 L150.34 336.10 L150.75 336.00 L151.78 336.36 L152.80 337.02 L153.83 338.17 L154.85 339.69 L155.88 341.33 L156.90 343.22 L157.93 345.16 L158.95 347.07 L159.98 349.01 L161.00 350.97 L162.03 352.95 L163.06 354.93 L164.08 356.91 L165.11 358.87 L166.13 360.83 L167.16 362.78 L168.18 364.72 L169.21 366.67 L170.23 368.62 L171.26 370.56 L172.28 372.52 L173.31 374.48 L174.34 376.45 L175.36 378.43 L176.39 380.42 L177.41 382.39 L178.44 384.34 L179.46 386.26 L180.49 388.14 L181.51 390.02 L182.54 391.89 L183.56 393.74 L184.59 395.56 L185.62 397.34 L186.64 399.08 L187.67 400.78 L188.69 402.47 L189.72 404.11 L190.74 405.65 L191.77 407.02 L192.79 408.27 L193.82 409.42 L194.84 410.47 L195.87 411.40 L195.87 411.40 L195.87 336.20 L195.92 335.42 L196.08 334.70 L196.34 334.08 L196.67 333.60 L197.06 333.30 L197.47 333.20 L198.50 333.54 L199.52 334.15 L200.55 335.23 L201.57 336.67 L202.60 338.21 L203.62 339.98 L204.65 341.80 L205.67 343.59 L206.70 345.42 L207.72 347.26 L208.75 349.12 L209.78 350.98 L210.80 352.83 L211.83 354.68 L212.85 356.51 L213.88 358.34 L214.90 360.17 L215.93 362.00 L216.95 363.83 L217.98 365.66 L219.00 367.49 L220.03 369.33 L221.06 371.18 L222.08 373.05 L223.11 374.91 L224.13 376.76 L225.16 378.59 L226.18 380.39 L227.21 382.16 L228.23 383.93 L229.26 385.68 L230.28 387.42 L231.31 389.13 L232.34 390.80 L233.36 392.43 L234.39 394.02 L235.41 395.61 L236.44 397.16 L237.46 398.60 L238.49 399.89 L239.51 401.06 L240.54 402.14 L241.56 403.13 L242.59 404.00 L242.59 404.00 L242.59 336.20 L242.64 335.42 L242.80 334.70 L243.06 334.08 L243.39 333.60 L243.78 333.30 L244.19 333.20 L245.22 333.57 L246.24 334.25 L247.27 335.43 L248.29 337.00 L249.32 338.68 L250.34 340.62 L251.37 342.61 L252.39 344.58 L253.42 346.57 L254.44 348.59 L255.47 350.62 L256.50 352.66 L257.52 354.69 L258.55 356.71 L259.57 358.72 L260.60 360.72 L261.62 362.72 L262.65 364.72 L263.67 366.72 L264.70 368.73 L265.72 370.73 L266.75 372.75 L267.78 374.78 L268.80 376.82 L269.83 378.85 L270.85 380.88 L271.88 382.88 L272.90 384.85 L273.93 386.80 L274.95 388.73 L275.98 390.65 L277.00 392.55 L278.03 394.42 L279.06 396.25 L280.08 398.04 L281.11 399.78 L282.13 401.52 L283.16 403.21 L284.18 404.79 L285.21 406.20 L286.23 407.48 L287.26 408.67 L288.28 409.75 L289.31 410.70 L289.31 410.70 L289.31 336.20 L289.36 335.42 L289.52 334.70 L289.78 334.08 L290.11 333.60 L290.50 333.30 L290.91 333.20 L291.94 333.53 L292.96 334.15 L293.99 335.22 L295.01 336.64 L296.04 338.17 L297.06 339.92 L298.09 341.73 L299.11 343.51 L300.14 345.31 L301.16 347.14 L302.19 348.98 L303.22 350.83 L304.24 352.67 L305.27 354.50 L306.29 356.31 L307.32 358.13 L308.34 359.94 L309.37 361.75 L310.39 363.57 L311.42 365.38 L312.44 367.20 L313.47 369.02 L314.50 370.86 L315.52 372.71 L316.55 374.55 L317.57 376.39 L318.60 378.20 L319.62 379.99 L320.65 381.75 L321.67 383.50 L322.70 385.24 L323.72 386.96 L324.75 388.65 L325.78 390.31 L326.80 391.93 L327.83 393.51 L328.85 395.08 L329.88 396.61 L330.90 398.05 L331.93 399.33 L332.95 400.49 L333.98 401.56 L335.00 402.54 L336.03 403.40 L336.03 403.40 L336.03 336.20 L336.08 335.42 L336.24 334.70 L336.50 334.08 L336.83 333.60 L337.22 333.30 L337.63 333.20 L338.66 333.55 L339.68 334.18 L340.71 335.29 L341.73 336.76 L342.76 338.34 L343.78 340.16 L344.81 342.03 L345.83 343.87 L346.86 345.75 L347.88 347.64 L348.91 349.54 L349.94 351.45 L350.96 353.36 L351.99 355.25 L353.01 357.14 L354.04 359.02 L355.06 360.89 L356.09 362.77 L357.11 364.65 L358.14 366.53 L359.16 368.41 L360.19 370.30 L361.22 372.20 L362.24 374.12 L363.27 376.03 L364.29 377.92 L365.32 379.80 L366.34 381.66 L367.37 383.48 L368.39 385.29 L369.42 387.09 L370.44 388.87 L371.47 390.63 L372.50 392.35 L373.52 394.02 L374.55 395.66 L375.57 397.29 L376.60 398.87 L377.62 400.36 L378.65 401.68 L379.67 402.88 L380.70 403.99 L381.72 405.01 L382.75 405.90 L382.75 405.90 L382.75 336.20 L382.80 335.42 L382.96 334.70 L383.22 334.08 L383.55 333.60 L383.94 333.30 L384.35 333.20 L385.38 333.54 L386.40 334.17 L387.43 335.26 L388.45 336.71 L389.48 338.26 L390.50 340.05 L391.53 341.90 L392.55 343.71 L393.58 345.56 L394.60 347.42 L395.63 349.30 L396.66 351.18 L397.68 353.05 L398.71 354.92 L399.73 356.78 L400.76 358.63 L401.78 360.48 L402.81 362.32 L403.83 364.17 L404.86 366.02 L405.88 367.88 L406.91 369.74 L407.94 371.61 L408.96 373.50 L409.99 375.38 L411.01 377.25 L412.04 379.10 L413.06 380.92 L414.09 382.72 L415.11 384.50 L416.14 386.28 L417.16 388.03 L418.19 389.76 L419.22 391.45 L420.24 393.10 L421.27 394.71 L422.29 396.32 L423.32 397.88 L424.34 399.34 L425.37 400.65 L426.39 401.83 L427.42 402.92 L428.44 403.92 L429.47 404.80 L429.47 404.80 L429.47 336.20 L429.52 335.42 L429.68 334.70 L429.94 334.08 L430.27 333.60 L430.66 333.30 L431.07 333.20 L432.10 333.57 L433.12 334.25 L434.15 335.43 L435.17 337.00 L436.20 338.68 L437.22 340.62 L438.25 342.61 L439.27 344.58 L440.30 346.57 L441.32 348.59 L442.35 350.62 L443.38 352.66 L444.40 354.69 L445.43 356.71 L446.45 358.72 L447.48 360.72 L448.50 362.72 L449.53 364.72 L450.55 366.72 L451.58 368.73 L452.60 370.73 L453.63 372.75 L454.66 374.78 L455.68 376.82 L456.71 378.85 L457.73 380.88 L458.76 382.88 L459.78 384.85 L460.81 386.80 L461.83 388.73 L462.86 390.65 L463.88 392.55 L464.91 394.42 L465.94 396.25 L466.96 398.04 L467.99 399.78 L469.01 401.52 L470.04 403.21 L471.06 404.79 L472.09 406.20 L473.11 407.48 L474.14 408.67 L475.16 409.75 L476.19 410.70 L476.19 410.70 L476.19 336.20 L476.24 335.42 L476.40 334.70 L476.66 334.08 L476.99 333.60 L477.38 333.30 L477.79 333.20 L478.82 333.53 L479.84 334.15 L480.87 335.22 L481.89 336.64 L482.92 338.17 L483.94 339.92 L484.97 341.73 L485.99 343.51 L487.02 345.31 L488.04 347.14 L489.07 348.98 L490.10 350.83 L491.12 352.67 L492.15 354.50 L493.17 356.31 L494.20 358.13 L495.22 359.94 L496.25 361.75 L497.27 363.57 L498.30 365.38 L499.32 367.20 L500.35 369.02 L501.38 370.86 L502.40 372.71 L503.43 374.55 L504.45 376.39 L505.48 378.20 L506.50 379.99 L507.53 381.75 L508.55 383.50 L509.58 385.24 L510.60 386.96 L511.63 388.65 L512.66 390.31 L513.68 391.93 L514.71 393.51 L515.73 395.08 L516.76 396.61 L517.78 398.05 L518.81 399.33 L519.83 400.49 L520.86 401.56 L521.88 402.54 L522.91 403.40 L522.91 403.40 L522.91 339.00 L522.96 338.22 L523.12 337.50 L523.38 336.88 L523.71 336.40 L524.10 336.10 L524.51 336.00 L525.54 336.36 L526.56 337.01 L527.59 338.15 L528.61 339.66 L529.64 341.28 L530.66 343.15 L531.69 345.07 L532.71 346.97 L533.74 348.89 L534.76 350.84 L535.79 352.79 L536.82 354.76 L537.84 356.71 L538.87 358.66 L539.89 360.60 L540.92 362.53 L541.94 364.46 L542.97 366.38 L543.99 368.31 L545.02 370.24 L546.04 372.18 L547.07 374.12 L548.10 376.08 L549.12 378.04 L550.15 380.00 L551.17 381.96 L552.20 383.89 L553.22 385.79 L554.25 387.66 L555.27 389.52 L556.30 391.37 L557.32 393.20 L558.35 395.01 L559.38 396.77 L560.40 398.50 L561.43 400.17 L562.45 401.85 L563.48 403.48 L564.50 405.00 L565.53 406.37 L566.55 407.60 L567.58 408.74 L568.60 409.78 L569.63 410.70 L569.63 410.70 L569.63 336.20 L569.68 335.42 L569.84 334.70 L570.10 334.08 L570.43 333.60 L570.82 333.30 L571.23 333.20 L572.26 333.54 L573.28 334.15 L574.31 335.23 L575.33 336.67 L576.36 338.21 L577.38 339.98 L578.41 341.80 L579.43 343.59 L580.46 345.42 L581.48 347.26 L582.51 349.12 L583.54 350.98 L584.56 352.83 L585.59 354.68 L586.61 356.51 L587.64 358.34 L588.66 360.17 L589.69 362.00 L590.71 363.83 L591.74 365.66 L592.76 367.49 L593.79 369.33 L594.82 371.18 L595.84 373.05 L596.87 374.91 L597.89 376.76 L598.92 378.59 L599.94 380.39 L600.97 382.16 L601.99 383.93 L603.02 385.68 L604.04 387.42 L605.07 389.13 L606.10 390.80 L607.12 392.43 L608.15 394.02 L609.17 395.61 L610.20 397.16 L611.22 398.60 L612.25 399.89 L613.27 401.06 L614.30 402.14 L615.32 403.13 L616.35 404.00 L616.35 404.00 L616.35 336.20 L616.40 335.42 L616.56 334.70 L616.82 334.08 L617.15 333.60 L617.54 333.30 L617.95 333.20 L618.98 333.57 L620.00 334.25 L621.03 335.43 L622.05 337.00 L623.08 338.68 L624.10 340.62 L625.13 342.61 L626.15 344.58 L627.18 346.57 L628.20 348.59 L629.23 350.62 L630.26 352.66 L631.28 354.69 L632.31 356.71 L633.33 358.72 L634.36 360.72 L635.38 362.72 L636.41 364.72 L637.43 366.72 L638.46 368.73 L639.48 370.73 L640.51 372.75 L641.54 374.78 L642.56 376.82 L643.59 378.85 L644.61 380.88 L645.64 382.88 L646.66 384.85 L647.69 386.80 L648.71 388.73 L649.74 390.65 L650.76 392.55 L651.79 394.42 L652.82 396.25 L653.84 398.04 L654.87 399.78 L655.89 401.52 L656.92 403.21 L657.94 404.79 L658.97 406.20 L659.99 407.48 L661.02 408.67 L662.04 409.75 L663.07 410.70 L663.07 410.70 L663.07 336.20 L663.12 335.42 L663.28 334.70 L663.54 334.08 L663.87 333.60 L664.26 333.30 L664.67 333.20 L665.70 333.53 L666.72 334.14 L667.75 335.21 L668.77 336.62 L669.80 338.14 L670.82 339.88 L671.85 341.68 L672.87 343.45 L673.90 345.25 L674.92 347.06 L675.95 348.89 L676.98 350.73 L678.00 352.56 L679.03 354.38 L680.05 356.18 L681.08 357.99 L682.10 359.79 L683.13 361.59 L684.15 363.39 L685.18 365.20 L686.20 367.00 L687.23 368.82 L688.26 370.65 L689.28 372.48 L690.31 374.32 L691.33 376.14 L692.36 377.95 L693.38 379.72 L694.41 381.47 L695.43 383.21 L696.46 384.94 L697.48 386.65 L698.51 388.34 L699.54 389.99 L700.56 391.60 L701.59 393.16 L702.61 394.73 L703.64 396.25 L704.66 397.68 L705.69 398.95 L706.71 400.10 L707.74 401.17 L708.76 402.14 L709.79 403.00 L709.79 403.00 L709.79 336.20 L709.84 335.42 L710.00 334.70 L710.26 334.08 L710.59 333.60 L710.98 333.30 L711.39 333.20 L712.42 333.55 L713.44 334.19 L714.47 335.31 L715.49 336.80 L716.52 338.39 L717.54 340.23 L718.57 342.12 L719.59 343.98 L720.62 345.87 L721.64 347.78 L722.67 349.70 L723.70 351.63 L724.72 353.55 L725.75 355.47 L726.77 357.37 L727.80 359.27 L728.82 361.16 L729.85 363.06 L730.87 364.95 L731.90 366.85 L732.92 368.75 L733.95 370.65 L734.98 372.58 L736.00 374.51 L737.03 376.44 L738.05 378.36 L739.08 380.25 L740.10 382.12 L741.13 383.96 L742.15 385.79 L743.18 387.61 L744.20 389.41 L745.23 391.18 L746.26 392.92 L747.28 394.61 L748.31 396.26 L749.33 397.90 L750.36 399.50 L751.38 401.00 L752.41 402.34 L753.43 403.55 L754.46 404.68 L755.48 405.70 L756.51 406.60 L756.51 406.60 L756.51 336.20 L756.56 335.42 L756.72 334.70 L756.98 334.08 L757.31 333.60 L757.70 333.30 L758.11 333.20 L759.14 333.55 L760.16 334.18 L761.19 335.29 L762.21 336.77 L763.24 338.35 L764.26 340.17 L765.29 342.04 L766.31 343.89 L767.34 345.76 L768.36 347.66 L769.39 349.57 L770.42 351.48 L771.44 353.39 L772.47 355.29 L773.49 357.17 L774.52 359.05 L775.54 360.93 L776.57 362.81 L777.59 364.69 L778.62 366.57 L779.64 368.46 L780.67 370.35 L781.70 372.26 L782.72 374.17 L783.75 376.08 L784.77 377.99 L785.80 379.87 L786.82 381.72 L787.85 383.55 L788.87 385.36 L789.90 387.17 L790.92 388.95 L791.95 390.71 L792.98 392.43 L794.00 394.11 L795.03 395.74 L796.05 397.37 L797.08 398.96 L798.10 400.45 L799.13 401.78 L800.15 402.98 L801.18 404.09 L802.20 405.10 L803.23 406.00 L803.23 406.00 L803.23 336.20 L803.28 335.42 L803.44 334.70 L803.70 334.08 L804.03 333.60 L804.42 333.30 L804.83 333.20 L805.86 333.57 L806.88 334.25 L807.91 335.43 L808.93 337.00 L809.96 338.68 L810.98 340.62 L812.01 342.61 L813.03 344.58 L814.06 346.57 L815.08 348.59 L816.11 350.62 L817.14 352.66 L818.16 354.69 L819.19 356.71 L820.21 358.72 L821.24 360.72 L822.26 362.72 L823.29 364.72 L824.31 366.72 L825.34 368.73 L826.36 370.73 L827.39 372.75 L828.42 374.78 L829.44 376.82 L830.47 378.85 L831.49 380.88 L832.52 382.88 L833.54 384.85 L834.57 386.80 L835.59 388.73 L836.62 390.65 L837.64 392.55 L838.67 394.42 L839.70 396.25 L840.72 398.04 L841.75 399.78 L842.77 401.52 L843.80 403.21 L844.82 404.79 L845.85 406.20 L846.87 407.48 L847.90 408.67 L848.92 409.75 L849.95 410.70 L849.95 410.70 L849.95 336.20 L850.00 335.42 L850.16 334.70 L850.42 334.08 L850.75 333.60 L851.14 333.30 L851.55 333.20 L852.58 333.54 L853.60 334.15 L854.63 335.23 L855.65 336.67 L856.68 338.21 L857.70 339.98 L858.73 341.80 L859.75 343.59 L860.78 345.42 L861.80 347.26 L862.83 349.12 L863.86 350.98 L864.88 352.83 L865.91 354.68 L866.93 356.51 L867.96 358.34 L868.98 360.17 L870.01 362.00 L871.03 363.83 L872.06 365.66 L873.08 367.49 L874.11 369.33 L875.14 371.18 L876.16 373.05 L877.19 374.91 L878.21 376.76 L879.24 378.59 L880.26 380.39 L881.29 382.16 L882.31 383.93 L883.34 385.68 L884.36 387.42 L885.39 389.13 L886.42 390.80 L887.44 392.43 L888.47 394.02 L889.49 395.61 L890.52 397.16 L891.54 398.60 L892.57 399.89 L893.59 401.06 L894.62 402.14 L895.64 403.13 L896.67 404.00 L896.7 351 L102.4 351 Z" fill="url(#gc)"/>
<path d="M102.43 336.20 L102.48 335.42 L102.64 334.70 L102.90 334.08 L103.23 333.60 L103.62 333.30 L104.03 333.20 L105.06 333.53 L106.08 334.15 L107.11 335.22 L108.13 336.64 L109.16 338.17 L110.18 339.92 L111.21 341.73 L112.23 343.51 L113.26 345.31 L114.28 347.14 L115.31 348.98 L116.34 350.83 L117.36 352.67 L118.39 354.50 L119.41 356.31 L120.44 358.13 L121.46 359.94 L122.49 361.75 L123.51 363.57 L124.54 365.38 L125.56 367.20 L126.59 369.02 L127.62 370.86 L128.64 372.71 L129.67 374.55 L130.69 376.39 L131.72 378.20 L132.74 379.99 L133.77 381.75 L134.79 383.50 L135.82 385.24 L136.84 386.96 L137.87 388.65 L138.90 390.31 L139.92 391.93 L140.95 393.51 L141.97 395.08 L143.00 396.61 L144.02 398.05 L145.05 399.33 L146.07 400.49 L147.10 401.56 L148.12 402.54 L149.15 403.40 L149.15 403.40 L149.15 339.00 L149.20 338.22 L149.36 337.50 L149.62 336.88 L149.95 336.40 L150.34 336.10 L150.75 336.00 L151.78 336.36 L152.80 337.02 L153.83 338.17 L154.85 339.69 L155.88 341.33 L156.90 343.22 L157.93 345.16 L158.95 347.07 L159.98 349.01 L161.00 350.97 L162.03 352.95 L163.06 354.93 L164.08 356.91 L165.11 358.87 L166.13 360.83 L167.16 362.78 L168.18 364.72 L169.21 366.67 L170.23 368.62 L171.26 370.56 L172.28 372.52 L173.31 374.48 L174.34 376.45 L175.36 378.43 L176.39 380.42 L177.41 382.39 L178.44 384.34 L179.46 386.26 L180.49 388.14 L181.51 390.02 L182.54 391.89 L183.56 393.74 L184.59 395.56 L185.62 397.34 L186.64 399.08 L187.67 400.78 L188.69 402.47 L189.72 404.11 L190.74 405.65 L191.77 407.02 L192.79 408.27 L193.82 409.42 L194.84 410.47 L195.87 411.40 L195.87 411.40 L195.87 336.20 L195.92 335.42 L196.08 334.70 L196.34 334.08 L196.67 333.60 L197.06 333.30 L197.47 333.20 L198.50 333.54 L199.52 334.15 L200.55 335.23 L201.57 336.67 L202.60 338.21 L203.62 339.98 L204.65 341.80 L205.67 343.59 L206.70 345.42 L207.72 347.26 L208.75 349.12 L209.78 350.98 L210.80 352.83 L211.83 354.68 L212.85 356.51 L213.88 358.34 L214.90 360.17 L215.93 362.00 L216.95 363.83 L217.98 365.66 L219.00 367.49 L220.03 369.33 L221.06 371.18 L222.08 373.05 L223.11 374.91 L224.13 376.76 L225.16 378.59 L226.18 380.39 L227.21 382.16 L228.23 383.93 L229.26 385.68 L230.28 387.42 L231.31 389.13 L232.34 390.80 L233.36 392.43 L234.39 394.02 L235.41 395.61 L236.44 397.16 L237.46 398.60 L238.49 399.89 L239.51 401.06 L240.54 402.14 L241.56 403.13 L242.59 404.00 L242.59 404.00 L242.59 336.20 L242.64 335.42 L242.80 334.70 L243.06 334.08 L243.39 333.60 L243.78 333.30 L244.19 333.20 L245.22 333.57 L246.24 334.25 L247.27 335.43 L248.29 337.00 L249.32 338.68 L250.34 340.62 L251.37 342.61 L252.39 344.58 L253.42 346.57 L254.44 348.59 L255.47 350.62 L256.50 352.66 L257.52 354.69 L258.55 356.71 L259.57 358.72 L260.60 360.72 L261.62 362.72 L262.65 364.72 L263.67 366.72 L264.70 368.73 L265.72 370.73 L266.75 372.75 L267.78 374.78 L268.80 376.82 L269.83 378.85 L270.85 380.88 L271.88 382.88 L272.90 384.85 L273.93 386.80 L274.95 388.73 L275.98 390.65 L277.00 392.55 L278.03 394.42 L279.06 396.25 L280.08 398.04 L281.11 399.78 L282.13 401.52 L283.16 403.21 L284.18 404.79 L285.21 406.20 L286.23 407.48 L287.26 408.67 L288.28 409.75 L289.31 410.70 L289.31 410.70 L289.31 336.20 L289.36 335.42 L289.52 334.70 L289.78 334.08 L290.11 333.60 L290.50 333.30 L290.91 333.20 L291.94 333.53 L292.96 334.15 L293.99 335.22 L295.01 336.64 L296.04 338.17 L297.06 339.92 L298.09 341.73 L299.11 343.51 L300.14 345.31 L301.16 347.14 L302.19 348.98 L303.22 350.83 L304.24 352.67 L305.27 354.50 L306.29 356.31 L307.32 358.13 L308.34 359.94 L309.37 361.75 L310.39 363.57 L311.42 365.38 L312.44 367.20 L313.47 369.02 L314.50 370.86 L315.52 372.71 L316.55 374.55 L317.57 376.39 L318.60 378.20 L319.62 379.99 L320.65 381.75 L321.67 383.50 L322.70 385.24 L323.72 386.96 L324.75 388.65 L325.78 390.31 L326.80 391.93 L327.83 393.51 L328.85 395.08 L329.88 396.61 L330.90 398.05 L331.93 399.33 L332.95 400.49 L333.98 401.56 L335.00 402.54 L336.03 403.40 L336.03 403.40 L336.03 336.20 L336.08 335.42 L336.24 334.70 L336.50 334.08 L336.83 333.60 L337.22 333.30 L337.63 333.20 L338.66 333.55 L339.68 334.18 L340.71 335.29 L341.73 336.76 L342.76 338.34 L343.78 340.16 L344.81 342.03 L345.83 343.87 L346.86 345.75 L347.88 347.64 L348.91 349.54 L349.94 351.45 L350.96 353.36 L351.99 355.25 L353.01 357.14 L354.04 359.02 L355.06 360.89 L356.09 362.77 L357.11 364.65 L358.14 366.53 L359.16 368.41 L360.19 370.30 L361.22 372.20 L362.24 374.12 L363.27 376.03 L364.29 377.92 L365.32 379.80 L366.34 381.66 L367.37 383.48 L368.39 385.29 L369.42 387.09 L370.44 388.87 L371.47 390.63 L372.50 392.35 L373.52 394.02 L374.55 395.66 L375.57 397.29 L376.60 398.87 L377.62 400.36 L378.65 401.68 L379.67 402.88 L380.70 403.99 L381.72 405.01 L382.75 405.90 L382.75 405.90 L382.75 336.20 L382.80 335.42 L382.96 334.70 L383.22 334.08 L383.55 333.60 L383.94 333.30 L384.35 333.20 L385.38 333.54 L386.40 334.17 L387.43 335.26 L388.45 336.71 L389.48 338.26 L390.50 340.05 L391.53 341.90 L392.55 343.71 L393.58 345.56 L394.60 347.42 L395.63 349.30 L396.66 351.18 L397.68 353.05 L398.71 354.92 L399.73 356.78 L400.76 358.63 L401.78 360.48 L402.81 362.32 L403.83 364.17 L404.86 366.02 L405.88 367.88 L406.91 369.74 L407.94 371.61 L408.96 373.50 L409.99 375.38 L411.01 377.25 L412.04 379.10 L413.06 380.92 L414.09 382.72 L415.11 384.50 L416.14 386.28 L417.16 388.03 L418.19 389.76 L419.22 391.45 L420.24 393.10 L421.27 394.71 L422.29 396.32 L423.32 397.88 L424.34 399.34 L425.37 400.65 L426.39 401.83 L427.42 402.92 L428.44 403.92 L429.47 404.80 L429.47 404.80 L429.47 336.20 L429.52 335.42 L429.68 334.70 L429.94 334.08 L430.27 333.60 L430.66 333.30 L431.07 333.20 L432.10 333.57 L433.12 334.25 L434.15 335.43 L435.17 337.00 L436.20 338.68 L437.22 340.62 L438.25 342.61 L439.27 344.58 L440.30 346.57 L441.32 348.59 L442.35 350.62 L443.38 352.66 L444.40 354.69 L445.43 356.71 L446.45 358.72 L447.48 360.72 L448.50 362.72 L449.53 364.72 L450.55 366.72 L451.58 368.73 L452.60 370.73 L453.63 372.75 L454.66 374.78 L455.68 376.82 L456.71 378.85 L457.73 380.88 L458.76 382.88 L459.78 384.85 L460.81 386.80 L461.83 388.73 L462.86 390.65 L463.88 392.55 L464.91 394.42 L465.94 396.25 L466.96 398.04 L467.99 399.78 L469.01 401.52 L470.04 403.21 L471.06 404.79 L472.09 406.20 L473.11 407.48 L474.14 408.67 L475.16 409.75 L476.19 410.70 L476.19 410.70 L476.19 336.20 L476.24 335.42 L476.40 334.70 L476.66 334.08 L476.99 333.60 L477.38 333.30 L477.79 333.20 L478.82 333.53 L479.84 334.15 L480.87 335.22 L481.89 336.64 L482.92 338.17 L483.94 339.92 L484.97 341.73 L485.99 343.51 L487.02 345.31 L488.04 347.14 L489.07 348.98 L490.10 350.83 L491.12 352.67 L492.15 354.50 L493.17 356.31 L494.20 358.13 L495.22 359.94 L496.25 361.75 L497.27 363.57 L498.30 365.38 L499.32 367.20 L500.35 369.02 L501.38 370.86 L502.40 372.71 L503.43 374.55 L504.45 376.39 L505.48 378.20 L506.50 379.99 L507.53 381.75 L508.55 383.50 L509.58 385.24 L510.60 386.96 L511.63 388.65 L512.66 390.31 L513.68 391.93 L514.71 393.51 L515.73 395.08 L516.76 396.61 L517.78 398.05 L518.81 399.33 L519.83 400.49 L520.86 401.56 L521.88 402.54 L522.91 403.40 L522.91 403.40 L522.91 339.00 L522.96 338.22 L523.12 337.50 L523.38 336.88 L523.71 336.40 L524.10 336.10 L524.51 336.00 L525.54 336.36 L526.56 337.01 L527.59 338.15 L528.61 339.66 L529.64 341.28 L530.66 343.15 L531.69 345.07 L532.71 346.97 L533.74 348.89 L534.76 350.84 L535.79 352.79 L536.82 354.76 L537.84 356.71 L538.87 358.66 L539.89 360.60 L540.92 362.53 L541.94 364.46 L542.97 366.38 L543.99 368.31 L545.02 370.24 L546.04 372.18 L547.07 374.12 L548.10 376.08 L549.12 378.04 L550.15 380.00 L551.17 381.96 L552.20 383.89 L553.22 385.79 L554.25 387.66 L555.27 389.52 L556.30 391.37 L557.32 393.20 L558.35 395.01 L559.38 396.77 L560.40 398.50 L561.43 400.17 L562.45 401.85 L563.48 403.48 L564.50 405.00 L565.53 406.37 L566.55 407.60 L567.58 408.74 L568.60 409.78 L569.63 410.70 L569.63 410.70 L569.63 336.20 L569.68 335.42 L569.84 334.70 L570.10 334.08 L570.43 333.60 L570.82 333.30 L571.23 333.20 L572.26 333.54 L573.28 334.15 L574.31 335.23 L575.33 336.67 L576.36 338.21 L577.38 339.98 L578.41 341.80 L579.43 343.59 L580.46 345.42 L581.48 347.26 L582.51 349.12 L583.54 350.98 L584.56 352.83 L585.59 354.68 L586.61 356.51 L587.64 358.34 L588.66 360.17 L589.69 362.00 L590.71 363.83 L591.74 365.66 L592.76 367.49 L593.79 369.33 L594.82 371.18 L595.84 373.05 L596.87 374.91 L597.89 376.76 L598.92 378.59 L599.94 380.39 L600.97 382.16 L601.99 383.93 L603.02 385.68 L604.04 387.42 L605.07 389.13 L606.10 390.80 L607.12 392.43 L608.15 394.02 L609.17 395.61 L610.20 397.16 L611.22 398.60 L612.25 399.89 L613.27 401.06 L614.30 402.14 L615.32 403.13 L616.35 404.00 L616.35 404.00 L616.35 336.20 L616.40 335.42 L616.56 334.70 L616.82 334.08 L617.15 333.60 L617.54 333.30 L617.95 333.20 L618.98 333.57 L620.00 334.25 L621.03 335.43 L622.05 337.00 L623.08 338.68 L624.10 340.62 L625.13 342.61 L626.15 344.58 L627.18 346.57 L628.20 348.59 L629.23 350.62 L630.26 352.66 L631.28 354.69 L632.31 356.71 L633.33 358.72 L634.36 360.72 L635.38 362.72 L636.41 364.72 L637.43 366.72 L638.46 368.73 L639.48 370.73 L640.51 372.75 L641.54 374.78 L642.56 376.82 L643.59 378.85 L644.61 380.88 L645.64 382.88 L646.66 384.85 L647.69 386.80 L648.71 388.73 L649.74 390.65 L650.76 392.55 L651.79 394.42 L652.82 396.25 L653.84 398.04 L654.87 399.78 L655.89 401.52 L656.92 403.21 L657.94 404.79 L658.97 406.20 L659.99 407.48 L661.02 408.67 L662.04 409.75 L663.07 410.70 L663.07 410.70 L663.07 336.20 L663.12 335.42 L663.28 334.70 L663.54 334.08 L663.87 333.60 L664.26 333.30 L664.67 333.20 L665.70 333.53 L666.72 334.14 L667.75 335.21 L668.77 336.62 L669.80 338.14 L670.82 339.88 L671.85 341.68 L672.87 343.45 L673.90 345.25 L674.92 347.06 L675.95 348.89 L676.98 350.73 L678.00 352.56 L679.03 354.38 L680.05 356.18 L681.08 357.99 L682.10 359.79 L683.13 361.59 L684.15 363.39 L685.18 365.20 L686.20 367.00 L687.23 368.82 L688.26 370.65 L689.28 372.48 L690.31 374.32 L691.33 376.14 L692.36 377.95 L693.38 379.72 L694.41 381.47 L695.43 383.21 L696.46 384.94 L697.48 386.65 L698.51 388.34 L699.54 389.99 L700.56 391.60 L701.59 393.16 L702.61 394.73 L703.64 396.25 L704.66 397.68 L705.69 398.95 L706.71 400.10 L707.74 401.17 L708.76 402.14 L709.79 403.00 L709.79 403.00 L709.79 336.20 L709.84 335.42 L710.00 334.70 L710.26 334.08 L710.59 333.60 L710.98 333.30 L711.39 333.20 L712.42 333.55 L713.44 334.19 L714.47 335.31 L715.49 336.80 L716.52 338.39 L717.54 340.23 L718.57 342.12 L719.59 343.98 L720.62 345.87 L721.64 347.78 L722.67 349.70 L723.70 351.63 L724.72 353.55 L725.75 355.47 L726.77 357.37 L727.80 359.27 L728.82 361.16 L729.85 363.06 L730.87 364.95 L731.90 366.85 L732.92 368.75 L733.95 370.65 L734.98 372.58 L736.00 374.51 L737.03 376.44 L738.05 378.36 L739.08 380.25 L740.10 382.12 L741.13 383.96 L742.15 385.79 L743.18 387.61 L744.20 389.41 L745.23 391.18 L746.26 392.92 L747.28 394.61 L748.31 396.26 L749.33 397.90 L750.36 399.50 L751.38 401.00 L752.41 402.34 L753.43 403.55 L754.46 404.68 L755.48 405.70 L756.51 406.60 L756.51 406.60 L756.51 336.20 L756.56 335.42 L756.72 334.70 L756.98 334.08 L757.31 333.60 L757.70 333.30 L758.11 333.20 L759.14 333.55 L760.16 334.18 L761.19 335.29 L762.21 336.77 L763.24 338.35 L764.26 340.17 L765.29 342.04 L766.31 343.89 L767.34 345.76 L768.36 347.66 L769.39 349.57 L770.42 351.48 L771.44 353.39 L772.47 355.29 L773.49 357.17 L774.52 359.05 L775.54 360.93 L776.57 362.81 L777.59 364.69 L778.62 366.57 L779.64 368.46 L780.67 370.35 L781.70 372.26 L782.72 374.17 L783.75 376.08 L784.77 377.99 L785.80 379.87 L786.82 381.72 L787.85 383.55 L788.87 385.36 L789.90 387.17 L790.92 388.95 L791.95 390.71 L792.98 392.43 L794.00 394.11 L795.03 395.74 L796.05 397.37 L797.08 398.96 L798.10 400.45 L799.13 401.78 L800.15 402.98 L801.18 404.09 L802.20 405.10 L803.23 406.00 L803.23 406.00 L803.23 336.20 L803.28 335.42 L803.44 334.70 L803.70 334.08 L804.03 333.60 L804.42 333.30 L804.83 333.20 L805.86 333.57 L806.88 334.25 L807.91 335.43 L808.93 337.00 L809.96 338.68 L810.98 340.62 L812.01 342.61 L813.03 344.58 L814.06 346.57 L815.08 348.59 L816.11 350.62 L817.14 352.66 L818.16 354.69 L819.19 356.71 L820.21 358.72 L821.24 360.72 L822.26 362.72 L823.29 364.72 L824.31 366.72 L825.34 368.73 L826.36 370.73 L827.39 372.75 L828.42 374.78 L829.44 376.82 L830.47 378.85 L831.49 380.88 L832.52 382.88 L833.54 384.85 L834.57 386.80 L835.59 388.73 L836.62 390.65 L837.64 392.55 L838.67 394.42 L839.70 396.25 L840.72 398.04 L841.75 399.78 L842.77 401.52 L843.80 403.21 L844.82 404.79 L845.85 406.20 L846.87 407.48 L847.90 408.67 L848.92 409.75 L849.95 410.70 L849.95 410.70 L849.95 336.20 L850.00 335.42 L850.16 334.70 L850.42 334.08 L850.75 333.60 L851.14 333.30 L851.55 333.20 L852.58 333.54 L853.60 334.15 L854.63 335.23 L855.65 336.67 L856.68 338.21 L857.70 339.98 L858.73 341.80 L859.75 343.59 L860.78 345.42 L861.80 347.26 L862.83 349.12 L863.86 350.98 L864.88 352.83 L865.91 354.68 L866.93 356.51 L867.96 358.34 L868.98 360.17 L870.01 362.00 L871.03 363.83 L872.06 365.66 L873.08 367.49 L874.11 369.33 L875.14 371.18 L876.16 373.05 L877.19 374.91 L878.21 376.76 L879.24 378.59 L880.26 380.39 L881.29 382.16 L882.31 383.93 L883.34 385.68 L884.36 387.42 L885.39 389.13 L886.42 390.80 L887.44 392.43 L888.47 394.02 L889.49 395.61 L890.52 397.16 L891.54 398.60 L892.57 399.89 L893.59 401.06 L894.62 402.14 L895.64 403.13 L896.67 404.00" fill="none" stroke="#16c1e6" stroke-width="1.35" stroke-linejoin="round"/>
</g>
<rect x="121.6" y="470" width="742.8" height="1.6" fill="#07080c"/>
<rect x="56" y="199" width="10" height="264.3" rx="5" fill="#5e6373"/>
<path d="M56 272.7 H66 V458.3 A5 5 0 0 1 56 458.3 Z" fill="#9db5e6"/>
<rect x="71.2" y="199" width="10" height="264.3" rx="5" fill="#5e6373"/>
<path d="M71.2 272.7 H81.2 V458.3 A5 5 0 0 1 71.2 458.3 Z" fill="#9db5e6"/>
<rect x="899.7" y="199" width="6" height="263.6" rx="3" fill="#5e6373"/>
<path d="M899.7 264.4 H905.7 V459.6 A3 3 0 0 1 899.7 459.6 Z" fill="#9db5e6"/>
<rect x="924.3" y="199" width="10" height="263.6" rx="5" fill="#5e6373"/>
<path d="M924.3 264.4 H934.3 V457.6 A5 5 0 0 1 924.3 457.6 Z" fill="#9db5e6"/>
<rect x="939.9" y="199" width="10" height="263.6" rx="5" fill="#5e6373"/>
<path d="M939.9 264.4 H949.9 V457.6 A5 5 0 0 1 939.9 457.6 Z" fill="#9db5e6"/>
<rect x="891.8" y="241.4" width="22.4" height="5.4" rx="1.8" fill="#fff" stroke="#15171f" stroke-width="0.8"/>
<text class="sc" text-anchor="end" x="890.1" y="208.6">+6</text>
<text class="sc" text-anchor="end" x="890.1" y="250.9">0</text>
<text class="sc" text-anchor="end" x="890.1" y="294.0">-6</text>
<text class="sc" text-anchor="end" x="890.1" y="336.4">-12</text>
<text class="sc" text-anchor="end" x="890.1" y="379.6">-18</text>
<text class="sc" text-anchor="end" x="890.1" y="422.3">-24</text>
<text class="sc" text-anchor="end" x="890.1" y="463.1">-30</text>
<text class="hd" x="895.4" y="148.3">CLIP</text>
<rect x="890.25" y="163.75" width="20.3" height="20.3" rx="2.4" fill="none" stroke="#10bfe0" stroke-width="1.8"/>
<g fill="none" stroke="#10bfe0" stroke-width="1.8" stroke-linecap="round"><path d="M896.77 169.45 A5.9 5.9 0 1 0 904.03 169.45"/><path d="M900.4 168.4 V173.8" stroke-width="1.7"/></g>
<rect x="926.2" y="163.75" width="20.1" height="20.3" rx="2.4" fill="none" stroke="#10bfe0" stroke-width="1.8"/>
<path d="M929.9 179.6 C932.4 173 936.4 169.2 943 168.8" fill="none" stroke="#10c8ee" stroke-width="2.1" stroke-linecap="round"/>
<text class="hd" x="39" y="495.8">INPUT</text>
<text class="val" x="47.8" y="527">100 %</text>
<text class="lbl" x="32.9" y="558.4" style="font-size:16.3px">Sensitivity</text>
<text class="hd" x="876.6" y="496">OUTPUT</text>
<text class="val" x="895.2" y="527.1">100 %</text>
<text class="lbl" x="904.4" y="558.4">Mix</text>
<text class="chd" x="289.3" y="497.4">TRANSIENT</text>
<text class="chd" x="614.6" y="497.4">BODY</text>
<g fill="none" stroke="#10bfe0" stroke-width="1.75" stroke-linecap="round"><path d="M489.24 486.6 A6.1 6.1 0 1 0 496.76 486.6"/><path d="M493 485.5 V490.5" stroke-width="1.8"/></g>
<text class="cval" x="363.7" y="527.4">50 ms</text>
<text class="cval" x="654.6" y="527.4" style="font-size:16px">200 ms</text>
<text class="lbl" x="281.6" y="559.6">Gain</text>
<text class="lbl" x="369.2" y="559.6">Time</text>
<text class="lbl" x="577.3" y="559.6">Gain</text>
<text class="lbl" x="664.8" y="559.6">Time</text>
<g fill="none" stroke="#98948e" stroke-width="1.35" stroke-linejoin="round" stroke-linecap="round"><path d="M286.6 507.3 V537.4"/><path d="M286.6 507.3 C290.5 515.5 298.5 520.8 308.9 522.2 C298.5 523.6 290.5 529.2 286.6 537.4"/></g>
<path d="M283.6 522.8 C285.6 523 286.4 521.6 289 520.6 C291.4 519.8 294.4 519.8 297 520.6 C301 521.7 304.6 522.5 308.8 522.6" fill="none" stroke="#12d0f3" stroke-width="1.9" stroke-linecap="round"/>
<path d="M603.9 521.4 V507.9 C594 507.9 582.9 511.5 582.9 521.4" fill="none" stroke="#98948e" stroke-width="1.6" stroke-linecap="butt" stroke-linejoin="round"/>
<path d="M579.4 522.1 H582.9 M582.9 521.4 C582.9 531.5 594 536.5 603.9 536.5 V521.4" fill="none" stroke="#12d0f3" stroke-width="2" stroke-linecap="round" stroke-linejoin="round"/>
</svg></body></html>
